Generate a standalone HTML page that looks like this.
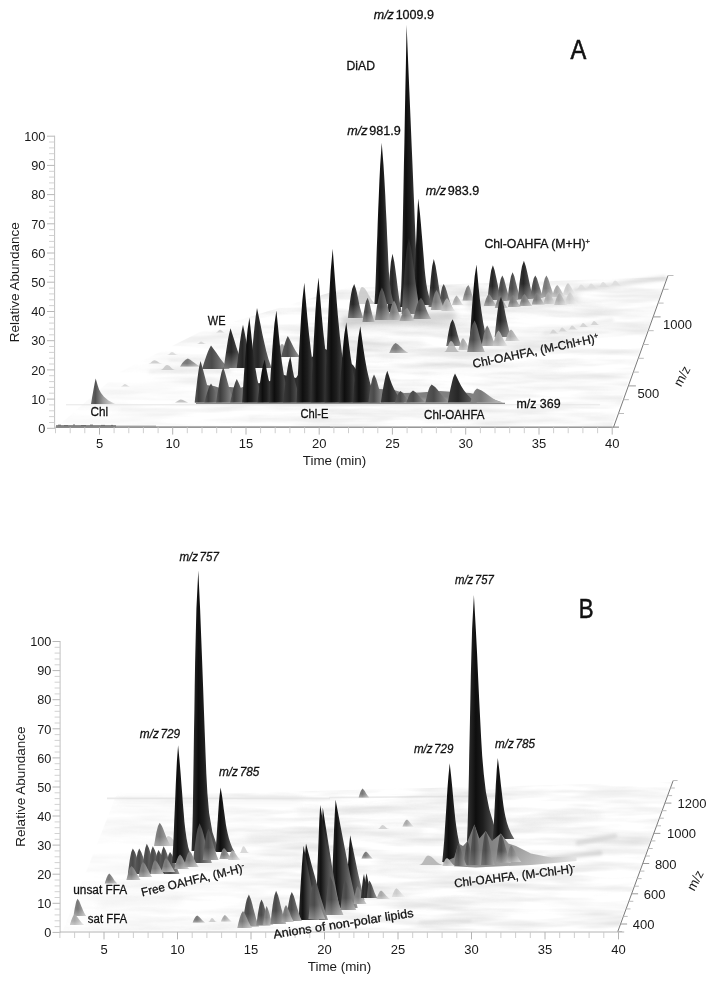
<!DOCTYPE html><html lang="en"><head><meta charset="utf-8"><title>Figure: 3D LC-MS chromatograms, panels A and B</title>
<style>html,body{margin:0;padding:0;background:#fff}svg{display:block}text{font-family:"Liberation Sans",Arial,Helvetica,sans-serif;fill:#1a1a1a}.lb text{fill:#111;stroke:#111;stroke-width:.28px}</style></head><body>
<svg width="714" height="981" viewBox="0 0 714 981">
<rect width="714" height="981" fill="#fff"/>
<defs>
<linearGradient id="k" x1="0" y1="0" x2="1" y2="0">
<stop offset="0" stop-color="#343434"/>
<stop offset="0.25" stop-color="#0e0e0e"/>
<stop offset="0.45" stop-color="#1e1e1e"/>
<stop offset="0.7" stop-color="#444444"/>
<stop offset="1" stop-color="#6c6c6c"/>
</linearGradient>
<linearGradient id="d" x1="0" y1="0" x2="1" y2="0">
<stop offset="0" stop-color="#3a3a3a"/>
<stop offset="0.35" stop-color="#262626"/>
<stop offset="1" stop-color="#747474"/>
</linearGradient>
<linearGradient id="m" x1="0" y1="0" x2="1" y2="0">
<stop offset="0" stop-color="#5a5a5a"/>
<stop offset="0.35" stop-color="#4a4a4a"/>
<stop offset="1" stop-color="#9a9a9a"/>
</linearGradient>
<linearGradient id="g" x1="0" y1="0" x2="1" y2="0">
<stop offset="0" stop-color="#858585"/>
<stop offset="0.35" stop-color="#787878"/>
<stop offset="1" stop-color="#bcbcbc"/>
</linearGradient>
<linearGradient id="l" x1="0" y1="0" x2="1" y2="0">
<stop offset="0" stop-color="#b4b4b4"/>
<stop offset="0.35" stop-color="#a8a8a8"/>
<stop offset="1" stop-color="#dedede"/>
</linearGradient>
<linearGradient id="v" x1="0" y1="0" x2="1" y2="0">
<stop offset="0" stop-color="#d4d4d4"/>
<stop offset="0.35" stop-color="#cccccc"/>
<stop offset="1" stop-color="#eeeeee"/>
</linearGradient>
<linearGradient id="r" x1="0" y1="0" x2="1" y2="0">
<stop offset="0" stop-color="#2a2a2a"/>
<stop offset="0.2" stop-color="#121212"/>
<stop offset="0.42" stop-color="#3e3e3e"/>
<stop offset="0.7" stop-color="#6a6a6a"/>
<stop offset="1" stop-color="#9a9a9a"/>
</linearGradient>
<linearGradient id="w" x1="0" y1="0" x2="1" y2="0">
<stop offset="0" stop-color="#727272"/>
<stop offset="0.3" stop-color="#7a7a7a"/>
<stop offset="0.6" stop-color="#a4a4a4"/>
<stop offset="1" stop-color="#e2e2e2"/>
</linearGradient>
<linearGradient id="f" x1="0" y1="0" x2="1" y2="0">
<stop offset="0" stop-color="#5a5a5a"/>
<stop offset="0.22" stop-color="#3c3c3c"/>
<stop offset="0.5" stop-color="#5c5c5c"/>
<stop offset="1" stop-color="#9a9a9a"/>
</linearGradient>
<linearGradient id="c" x1="0" y1="0" x2="1" y2="0">
<stop offset="0" stop-color="#6a6a6a"/>
<stop offset="0.18" stop-color="#525252"/>
<stop offset="0.5" stop-color="#9a9a9a"/>
<stop offset="1" stop-color="#e4e4e4"/>
</linearGradient>
<linearGradient id="D" x1="0" y1="0" x2="1" y2="0">
<stop offset="0" stop-color="#3a3a3a"/>
<stop offset="0.35" stop-color="#262626"/>
<stop offset="1" stop-color="#747474"/>
</linearGradient>
<linearGradient id="fade" x1="0" y1="0" x2="0" y2="1"><stop offset="0" stop-color="#fff" stop-opacity="0"/><stop offset="0.6" stop-color="#fff" stop-opacity="0"/><stop offset="1" stop-color="#fff" stop-opacity="0.32"/></linearGradient>
<filter id="b1" filterUnits="userSpaceOnUse" x="0" y="0" width="714" height="981"><feGaussianBlur stdDeviation="0.6"/></filter>
<filter id="b2" filterUnits="userSpaceOnUse" x="0" y="0" width="714" height="981"><feGaussianBlur stdDeviation="1.6"/></filter>
<filter id="b3" filterUnits="userSpaceOnUse" x="0" y="0" width="714" height="981"><feGaussianBlur stdDeviation="3"/></filter>
<filter id="tex" filterUnits="userSpaceOnUse" x="0" y="0" width="714" height="981"><feTurbulence type="fractalNoise" baseFrequency="0.012 0.11" numOctaves="3" seed="7" result="n"/><feColorMatrix in="n" type="matrix" values="0 0 0 0 0.5  0 0 0 0 0.5  0 0 0 0 0.5  0.9 0 0 0 -0.33" result="c"/><feComposite in="c" in2="SourceGraphic" operator="in"/></filter>
<linearGradient id="fmA" x1="0" y1="0" x2="1" y2="0"><stop offset="0" stop-color="#fff" stop-opacity="0.25"/><stop offset="0.45" stop-color="#fff" stop-opacity="1"/><stop offset="1" stop-color="#fff" stop-opacity="0.8"/></linearGradient>
</defs>
<path d="M58 426L612 426L667 277L345 288L200 332L120 372Z" fill="url(#fmA)" filter="url(#tex)"/>
<line x1="66" y1="404.8" x2="600" y2="404.8" stroke="#e6e6e6" stroke-width="1"/>
<line x1="56" y1="426.2" x2="116" y2="426.2" stroke="#8e8e8e" stroke-width="2.4"/>
<path d="M58 425.2h3m3 .4h4m5 -.6h2m6 .5h5m4 -.4h3m8 .3h4m6 0h2" stroke="#6e6e6e" stroke-width="1" fill="none"/>
<line x1="116" y1="426.4" x2="156" y2="426.4" stroke="#b4b4b4" stroke-width="1.8"/>
<line x1="156" y1="426.6" x2="330" y2="426.6" stroke="#d0d0d0" stroke-width="1.2"/>
<line x1="330" y1="426.8" x2="612" y2="426.8" stroke="#e0e0e0" stroke-width="1"/>
<line x1="330" y1="412" x2="470" y2="411" stroke="#c8c8c8" stroke-width="2.2" opacity="0.3" stroke-linecap="round" filter="url(#b2)"/>
<line x1="250" y1="418" x2="330" y2="418" stroke="#cccccc" stroke-width="2" opacity="0.25" stroke-linecap="round" filter="url(#b2)"/>
<line x1="120" y1="410" x2="230" y2="410" stroke="#d4d4d4" stroke-width="1.6" opacity="0.25" stroke-linecap="round" filter="url(#b2)"/>
<line x1="150" y1="372" x2="230" y2="371" stroke="#c8c8c8" stroke-width="3" opacity="0.3" stroke-linecap="round" filter="url(#b2)"/>
<line x1="170" y1="360" x2="240" y2="359" stroke="#c8c8c8" stroke-width="2.5" opacity="0.25" stroke-linecap="round" filter="url(#b2)"/>
<line x1="300" y1="345" x2="420" y2="343" stroke="#cccccc" stroke-width="5" opacity="0.25" stroke-linecap="round" filter="url(#b3)"/>
<line x1="330" y1="330" x2="470" y2="326" stroke="#cccccc" stroke-width="6" opacity="0.3" stroke-linecap="round" filter="url(#b3)"/>
<line x1="380" y1="356" x2="520" y2="352" stroke="#d0d0d0" stroke-width="4" opacity="0.3" stroke-linecap="round" filter="url(#b3)"/>
<line x1="420" y1="372" x2="560" y2="366" stroke="#d8d8d8" stroke-width="3" opacity="0.25" stroke-linecap="round" filter="url(#b3)"/>
<line x1="500" y1="312" x2="600" y2="309" stroke="#cccccc" stroke-width="3" opacity="0.3" stroke-linecap="round" filter="url(#b3)"/>
<line x1="545" y1="333" x2="612" y2="320" stroke="#d8d8d8" stroke-width="4" opacity="0.4" stroke-linecap="round" filter="url(#b2)"/>
<path d="M549 333.5C551 333.5 551.6 329.5 553 329.5C555.1 329.5 556 333.5 559 333.5Z" fill="#cfcfcf" opacity="0.8" filter="url(#b1)"/>
<path d="M558 331.5C560 331.5 560.6 327.5 562 327.5C564.1 327.5 565 331.5 568 331.5Z" fill="#cfcfcf" opacity="0.8" filter="url(#b1)"/>
<path d="M568 329.5C570 329.5 570.6 325.5 572 325.5C574.1 325.5 575 329.5 578 329.5Z" fill="#cfcfcf" opacity="0.8" filter="url(#b1)"/>
<path d="M579 327C581 327 581.6 323 583 323C585.1 323 586 327 589 327Z" fill="#cfcfcf" opacity="0.8" filter="url(#b1)"/>
<path d="M590 325C592 325 592.6 321 594 321C596.1 321 597 325 600 325Z" fill="#cfcfcf" opacity="0.8" filter="url(#b1)"/>
<line x1="575" y1="290" x2="664" y2="278" stroke="#c8c8c8" stroke-width="5" opacity="0.45" stroke-linecap="round" filter="url(#b2)"/>
<line x1="470" y1="304" x2="575" y2="298" stroke="#b4b4b4" stroke-width="7" opacity="0.5" stroke-linecap="round" filter="url(#b3)"/>
<line x1="345" y1="322" x2="452" y2="316" stroke="#a8a8a8" stroke-width="9" opacity="0.55" stroke-linecap="round" filter="url(#b3)"/>
<path d="M354 304C358 304 359.2 287 362 287C367.6 287 370 304 378 304Z" fill="#c4c4c4" opacity="0.8"/>
<path d="M347.9 318L348.5 313.1L349.1 308.3L349.7 303.4L350.4 298.5L351.2 293.6L352.2 288.8L354.2 283.9L355.9 288.8L357.1 293.6L358.1 298.5L359.1 303.4L360.2 308.3L361.5 313.1L363 318Z" fill="url(#D)"/>
<path d="M347.9 318L348.5 313.1L349.1 308.3L349.7 303.4L350.4 298.5L351.2 293.6L352.2 288.8L354.2 283.9L355.9 288.8L357.1 293.6L358.1 298.5L359.1 303.4L360.2 308.3L361.5 313.1L363 318Z" fill="url(#fade)"/>
<path d="M362.6 322L363 318.5L363.5 315.1L364 311.6L364.6 308.1L365.2 304.6L366 301.2L367.6 297.7L369 301.2L369.9 304.6L370.7 308.1L371.5 311.6L372.3 315.1L373.3 318.5L374.5 322Z" fill="url(#m)"/>
<path d="M362.6 322L363 318.5L363.5 315.1L364 311.6L364.6 308.1L365.2 304.6L366 301.2L367.6 297.7L369 301.2L369.9 304.6L370.7 308.1L371.5 311.6L372.3 315.1L373.3 318.5L374.5 322Z" fill="url(#fade)"/>
<path d="M387.3 312L387.8 303.7L388.3 295.3L388.8 287L389.4 278.7L390.1 270.4L390.9 262L392.5 253.7L394.3 262L395.5 270.4L396.6 278.7L397.6 287L398.7 295.3L400.1 303.7L401.7 312Z" fill="url(#D)"/>
<path d="M428.6 307L429.1 300.2L429.6 293.3L430.1 286.5L430.7 279.6L431.4 272.8L432.2 265.9L433.8 259.1L435.6 265.9L436.7 272.8L437.8 279.6L438.8 286.5L439.9 293.3L441.2 300.2L442.8 307Z" fill="url(#D)"/>
<path d="M428.6 307L429.1 300.2L429.6 293.3L430.1 286.5L430.7 279.6L431.4 272.8L432.2 265.9L433.8 259.1L435.6 265.9L436.7 272.8L437.8 279.6L438.8 286.5L439.9 293.3L441.2 300.2L442.8 307Z" fill="url(#fade)"/>
<path d="M438.5 308L439 304.6L439.5 301.1L440 297.7L440.6 294.2L441.3 290.8L442.1 287.3L443.7 283.9L445.4 287.3L446.6 290.8L447.6 294.2L448.6 297.7L449.7 301.1L451 304.6L452.5 308Z" fill="url(#m)"/>
<path d="M438.5 308L439 304.6L439.5 301.1L440 297.7L440.6 294.2L441.3 290.8L442.1 287.3L443.7 283.9L445.4 287.3L446.6 290.8L447.6 294.2L448.6 297.7L449.7 301.1L451 304.6L452.5 308Z" fill="url(#fade)"/>
<path d="M452.1 305L452.5 303.7L452.9 302.3L453.4 301L453.9 299.6L454.5 298.3L455.2 296.9L456.6 295.6L457.9 296.9L458.8 298.3L459.6 299.6L460.3 301L461.2 302.3L462.1 303.7L463.3 305Z" fill="url(#l)"/>
<path d="M452.1 305L452.5 303.7L452.9 302.3L453.4 301L453.9 299.6L454.5 298.3L455.2 296.9L456.6 295.6L457.9 296.9L458.8 298.3L459.6 299.6L460.3 301L461.2 302.3L462.1 303.7L463.3 305Z" fill="url(#fade)"/>
<path d="M462.6 300.5L463.1 298.3L463.6 296.1L464.2 293.9L464.9 291.7L465.7 289.5L466.6 287.3L468.4 285.1L469.6 287.3L470.4 289.5L471.1 291.7L471.8 293.9L472.5 296.1L473.4 298.3L474.4 300.5Z" fill="url(#g)"/>
<path d="M462.6 300.5L463.1 298.3L463.6 296.1L464.2 293.9L464.9 291.7L465.7 289.5L466.6 287.3L468.4 285.1L469.6 287.3L470.4 289.5L471.1 291.7L471.8 293.9L472.5 296.1L473.4 298.3L474.4 300.5Z" fill="url(#fade)"/>
<path d="M374.4 304L375.1 293.2L375.6 282.1L376 270.9L376.4 259.3L376.8 247.5L377.3 235.4L377.7 222.8L378.2 209.7L378.8 196L379.4 181.2L380.2 164.9L381.7 142.8L383.5 164.9L384.5 181.2L385.3 196L385.9 209.7L386.6 222.8L387.1 235.4L387.7 247.5L388.2 259.3L388.8 270.9L389.7 282.1L391.2 293.2L393.9 304Z" fill="url(#k)"/>
<path d="M400 307L401.2 288L401.9 268.7L402.3 249L402.7 228.8L403.1 208.2L403.5 186.9L403.9 164.9L404.4 142L404.8 117.9L405.3 92.1L405.9 63.5L406.6 24.8L408.2 63.5L409.4 92.1L410.5 117.9L411.5 142L412.5 164.9L413.4 186.9L414.3 208.2L415.1 228.8L416 249L417.1 268.7L419 288L423.4 307Z" fill="url(#k)"/>
<path d="M413 305L413.6 297.8L414.1 290.5L414.5 283.1L414.8 275.5L415.1 267.7L415.4 259.6L415.8 251.3L416.1 242.7L416.5 233.6L416.9 223.8L417.4 213L418.2 198.4L419.9 213L420.9 223.8L421.7 233.6L422.5 242.7L423.2 251.3L423.9 259.6L424.5 267.7L425.3 275.5L426.2 283.1L427.5 290.5L429.4 297.8L432.2 305Z" fill="url(#k)"/>
<path d="M401.7 314L402.4 303.2L403 292.3L403.8 281.5L404.6 270.7L405.5 259.9L406.7 249L408.9 238.2L411.2 249L412.7 259.9L414.1 270.7L415.4 281.5L416.9 292.3L418.6 303.2L420.7 314Z" fill="url(#D)"/>
<path d="M401.7 314L402.4 303.2L403 292.3L403.8 281.5L404.6 270.7L405.5 259.9L406.7 249L408.9 238.2L411.2 249L412.7 259.9L414.1 270.7L415.4 281.5L416.9 292.3L418.6 303.2L420.7 314Z" fill="url(#fade)"/>
<path d="M375.1 320L375.7 315.4L376.3 310.7L377 306.1L377.8 301.5L378.7 296.9L379.8 292.2L381.9 287.6L383.9 292.2L385.2 296.9L386.3 301.5L387.5 306.1L388.8 310.7L390.2 315.4L392 320Z" fill="url(#m)"/>
<path d="M375.1 320L375.7 315.4L376.3 310.7L377 306.1L377.8 301.5L378.7 296.9L379.8 292.2L381.9 287.6L383.9 292.2L385.2 296.9L386.3 301.5L387.5 306.1L388.8 310.7L390.2 315.4L392 320Z" fill="url(#fade)"/>
<path d="M413.4 319L414.1 316L414.8 312.9L415.6 309.9L416.4 306.8L417.4 303.8L418.6 300.7L421 297.7L423 300.7L424.3 303.8L425.4 306.8L426.6 309.9L427.9 312.9L429.3 316L431.1 319Z" fill="url(#m)"/>
<path d="M413.4 319L414.1 316L414.8 312.9L415.6 309.9L416.4 306.8L417.4 303.8L418.6 300.7L421 297.7L423 300.7L424.3 303.8L425.4 306.8L426.6 309.9L427.9 312.9L429.3 316L431.1 319Z" fill="url(#fade)"/>
<path d="M430.9 310L431.4 307.1L431.9 304.3L432.5 301.4L433.1 298.6L433.9 295.7L434.8 292.9L436.5 290L438.2 292.9L439.2 295.7L440.2 298.6L441.2 301.4L442.2 304.3L443.4 307.1L444.9 310Z" fill="url(#g)"/>
<path d="M430.9 310L431.4 307.1L431.9 304.3L432.5 301.4L433.1 298.6L433.9 295.7L434.8 292.9L436.5 290L438.2 292.9L439.2 295.7L440.2 298.6L441.2 301.4L442.2 304.3L443.4 307.1L444.9 310Z" fill="url(#fade)"/>
<path d="M388.4 320L388.9 317.2L389.4 314.4L390 311.6L390.6 308.9L391.4 306.1L392.3 303.3L394 300.5L395.5 303.3L396.6 306.1L397.5 308.9L398.4 311.6L399.3 314.4L400.5 317.2L401.8 320Z" fill="url(#g)"/>
<path d="M388.4 320L388.9 317.2L389.4 314.4L390 311.6L390.6 308.9L391.4 306.1L392.3 303.3L394 300.5L395.5 303.3L396.6 306.1L397.5 308.9L398.4 311.6L399.3 314.4L400.5 317.2L401.8 320Z" fill="url(#fade)"/>
<path d="M399.6 321L400.3 319.1L401 317.2L401.7 315.3L402.6 313.5L403.6 311.6L404.8 309.7L407.1 307.8L408.6 309.7L409.6 311.6L410.5 313.5L411.3 315.3L412.3 317.2L413.4 319.1L414.7 321Z" fill="url(#g)"/>
<path d="M399.6 321L400.3 319.1L401 317.2L401.7 315.3L402.6 313.5L403.6 311.6L404.8 309.7L407.1 307.8L408.6 309.7L409.6 311.6L410.5 313.5L411.3 315.3L412.3 317.2L413.4 319.1L414.7 321Z" fill="url(#fade)"/>
<path d="M441.4 311L441.9 309.1L442.4 307.3L443 305.4L443.6 303.6L444.4 301.7L445.3 299.9L447 298L448.5 299.9L449.6 301.7L450.5 303.6L451.4 305.4L452.3 307.3L453.5 309.1L454.8 311Z" fill="url(#l)"/>
<path d="M441.4 311L441.9 309.1L442.4 307.3L443 305.4L443.6 303.6L444.4 301.7L445.3 299.9L447 298L448.5 299.9L449.6 301.7L450.5 303.6L451.4 305.4L452.3 307.3L453.5 309.1L454.8 311Z" fill="url(#fade)"/>
<path d="M487.5 300L488 295L488.5 290.1L489.1 285.1L489.7 280.2L490.4 275.2L491.2 270.3L492.9 265.3L494.6 270.3L495.7 275.2L496.8 280.2L497.8 285.1L498.8 290.1L500.1 295L501.6 300Z" fill="url(#D)"/>
<path d="M487.5 300L488 295L488.5 290.1L489.1 285.1L489.7 280.2L490.4 275.2L491.2 270.3L492.9 265.3L494.6 270.3L495.7 275.2L496.8 280.2L497.8 285.1L498.8 290.1L500.1 295L501.6 300Z" fill="url(#fade)"/>
<path d="M497.1 301L497.6 297.3L498.1 293.7L498.6 290L499.2 286.4L499.9 282.7L500.7 279.1L502.3 275.4L504 279.1L505 282.7L506 286.4L507 290L508 293.7L509.2 297.3L510.7 301Z" fill="url(#m)"/>
<path d="M497.1 301L497.6 297.3L498.1 293.7L498.6 290L499.2 286.4L499.9 282.7L500.7 279.1L502.3 275.4L504 279.1L505 282.7L506 286.4L507 290L508 293.7L509.2 297.3L510.7 301Z" fill="url(#fade)"/>
<path d="M507.4 300L507.9 296L508.4 292.1L508.9 288.1L509.5 284.2L510.2 280.2L511 276.3L512.6 272.3L514.3 276.3L515.3 280.2L516.3 284.2L517.3 288.1L518.3 292.1L519.5 296L521 300Z" fill="url(#m)"/>
<path d="M507.4 300L507.9 296L508.4 292.1L508.9 288.1L509.5 284.2L510.2 280.2L511 276.3L512.6 272.3L514.3 276.3L515.3 280.2L516.3 284.2L517.3 288.1L518.3 292.1L519.5 296L521 300Z" fill="url(#fade)"/>
<path d="M517.9 299L518.4 293.5L519 288.1L519.6 282.6L520.3 277.2L521 271.7L522 266.3L523.9 260.8L525.8 266.3L527.1 271.7L528.3 277.2L529.4 282.6L530.6 288.1L532 293.5L533.8 299Z" fill="url(#D)"/>
<path d="M517.9 299L518.4 293.5L519 288.1L519.6 282.6L520.3 277.2L521 271.7L522 266.3L523.9 260.8L525.8 266.3L527.1 271.7L528.3 277.2L529.4 282.6L530.6 288.1L532 293.5L533.8 299Z" fill="url(#fade)"/>
<path d="M530.1 298L530.6 294.8L531.1 291.5L531.6 288.3L532.2 285.1L532.9 281.9L533.7 278.6L535.3 275.4L537 278.6L538 281.9L539 285.1L540 288.3L541 291.5L542.2 294.8L543.7 298Z" fill="url(#m)"/>
<path d="M530.1 298L530.6 294.8L531.1 291.5L531.6 288.3L532.2 285.1L532.9 281.9L533.7 278.6L535.3 275.4L537 278.6L538 281.9L539 285.1L540 288.3L541 291.5L542.2 294.8L543.7 298Z" fill="url(#fade)"/>
<path d="M541.2 297L541.7 293.9L542.2 290.8L542.7 287.7L543.3 284.7L544 281.6L544.8 278.5L546.4 275.4L548.1 278.5L549.1 281.6L550.1 284.7L551.1 287.7L552.1 290.8L553.3 293.9L554.8 297Z" fill="url(#g)"/>
<path d="M541.2 297L541.7 293.9L542.2 290.8L542.7 287.7L543.3 284.7L544 281.6L544.8 278.5L546.4 275.4L548.1 278.5L549.1 281.6L550.1 284.7L551.1 287.7L552.1 290.8L553.3 293.9L554.8 297Z" fill="url(#fade)"/>
<path d="M552 297L552.5 295.3L553 293.6L553.5 291.9L554.1 290.1L554.8 288.4L555.6 286.7L557.2 285L558.9 286.7L559.9 288.4L560.9 290.1L561.9 291.9L562.9 293.6L564.1 295.3L565.6 297Z" fill="url(#l)"/>
<path d="M552 297L552.5 295.3L553 293.6L553.5 291.9L554.1 290.1L554.8 288.4L555.6 286.7L557.2 285L558.9 286.7L559.9 288.4L560.9 290.1L561.9 291.9L562.9 293.6L564.1 295.3L565.6 297Z" fill="url(#fade)"/>
<path d="M562.8 295L563.3 293.3L563.8 291.6L564.3 289.9L564.9 288.1L565.6 286.4L566.4 284.7L568 283L569.7 284.7L570.7 286.4L571.7 288.1L572.7 289.9L573.7 291.6L574.9 293.3L576.4 295Z" fill="url(#v)"/>
<path d="M562.8 295L563.3 293.3L563.8 291.6L564.3 289.9L564.9 288.1L565.6 286.4L566.4 284.7L568 283L569.7 284.7L570.7 286.4L571.7 288.1L572.7 289.9L573.7 291.6L574.9 293.3L576.4 295Z" fill="url(#fade)"/>
<path d="M576 289.5C578.5 289.5 579.2 284.5 581 284.5C583.5 284.5 584.5 289.5 588 289.5Z" fill="#dcdcdc" opacity="0.8" filter="url(#b1)"/>
<path d="M586 288.5C588.5 288.5 589.2 283.5 591 283.5C593.5 283.5 594.5 288.5 598 288.5Z" fill="#dcdcdc" opacity="0.8" filter="url(#b1)"/>
<path d="M598 287C600.5 287 601.2 282 603 282C605.5 282 606.5 287 610 287Z" fill="#dcdcdc" opacity="0.8" filter="url(#b1)"/>
<path d="M610 285.5C612.5 285.5 613.2 280.5 615 280.5C617.5 280.5 618.5 285.5 622 285.5Z" fill="#dcdcdc" opacity="0.8" filter="url(#b1)"/>
<path d="M483.8 306L484.3 304.3L484.8 302.6L485.3 300.9L485.9 299.1L486.6 297.4L487.4 295.7L489 294L490.5 295.7L491.6 297.4L492.5 299.1L493.4 300.9L494.3 302.6L495.5 304.3L496.8 306Z" fill="url(#g)"/>
<path d="M483.8 306L484.3 304.3L484.8 302.6L485.3 300.9L485.9 299.1L486.6 297.4L487.4 295.7L489 294L490.5 295.7L491.6 297.4L492.5 299.1L493.4 300.9L494.3 302.6L495.5 304.3L496.8 306Z" fill="url(#fade)"/>
<path d="M494.8 308L495.3 306.3L495.8 304.6L496.3 302.9L496.9 301.1L497.6 299.4L498.4 297.7L500 296L501.5 297.7L502.6 299.4L503.5 301.1L504.4 302.9L505.3 304.6L506.5 306.3L507.8 308Z" fill="url(#g)"/>
<path d="M494.8 308L495.3 306.3L495.8 304.6L496.3 302.9L496.9 301.1L497.6 299.4L498.4 297.7L500 296L501.5 297.7L502.6 299.4L503.5 301.1L504.4 302.9L505.3 304.6L506.5 306.3L507.8 308Z" fill="url(#fade)"/>
<path d="M507.8 307L508.3 305.3L508.8 303.6L509.3 301.9L509.9 300.1L510.6 298.4L511.4 296.7L513 295L514.5 296.7L515.6 298.4L516.5 300.1L517.4 301.9L518.3 303.6L519.5 305.3L520.8 307Z" fill="url(#g)"/>
<path d="M507.8 307L508.3 305.3L508.8 303.6L509.3 301.9L509.9 300.1L510.6 298.4L511.4 296.7L513 295L514.5 296.7L515.6 298.4L516.5 300.1L517.4 301.9L518.3 303.6L519.5 305.3L520.8 307Z" fill="url(#fade)"/>
<path d="M519.2 306L519.7 304.3L520.2 302.6L520.7 300.9L521.3 299.1L522 297.4L522.8 295.7L524.4 294L525.9 295.7L527 297.4L527.9 299.1L528.8 300.9L529.7 302.6L530.9 304.3L532.2 306Z" fill="url(#g)"/>
<path d="M519.2 306L519.7 304.3L520.2 302.6L520.7 300.9L521.3 299.1L522 297.4L522.8 295.7L524.4 294L525.9 295.7L527 297.4L527.9 299.1L528.8 300.9L529.7 302.6L530.9 304.3L532.2 306Z" fill="url(#fade)"/>
<path d="M531.8 304.5L532.3 302.8L532.8 301.1L533.3 299.4L533.9 297.6L534.6 295.9L535.4 294.2L537 292.5L538.5 294.2L539.6 295.9L540.5 297.6L541.4 299.4L542.3 301.1L543.5 302.8L544.8 304.5Z" fill="url(#g)"/>
<path d="M531.8 304.5L532.3 302.8L532.8 301.1L533.3 299.4L533.9 297.6L534.6 295.9L535.4 294.2L537 292.5L538.5 294.2L539.6 295.9L540.5 297.6L541.4 299.4L542.3 301.1L543.5 302.8L544.8 304.5Z" fill="url(#fade)"/>
<path d="M543.3 304L543.8 302.3L544.3 300.6L544.8 298.9L545.4 297.1L546.1 295.4L546.9 293.7L548.5 292L550 293.7L551.1 295.4L552 297.1L552.9 298.9L553.8 300.6L555 302.3L556.3 304Z" fill="url(#l)"/>
<path d="M543.3 304L543.8 302.3L544.3 300.6L544.8 298.9L545.4 297.1L546.1 295.4L546.9 293.7L548.5 292L550 293.7L551.1 295.4L552 297.1L552.9 298.9L553.8 300.6L555 302.3L556.3 304Z" fill="url(#fade)"/>
<path d="M554.3 305L554.8 303.3L555.3 301.6L555.8 299.9L556.4 298.1L557.1 296.4L557.9 294.7L559.5 293L561 294.7L562.1 296.4L563 298.1L563.9 299.9L564.8 301.6L566 303.3L567.3 305Z" fill="url(#l)"/>
<path d="M554.3 305L554.8 303.3L555.3 301.6L555.8 299.9L556.4 298.1L557.1 296.4L557.9 294.7L559.5 293L561 294.7L562.1 296.4L563 298.1L563.9 299.9L564.8 301.6L566 303.3L567.3 305Z" fill="url(#fade)"/>
<path d="M564.8 304L565.3 302.3L565.8 300.6L566.3 298.9L566.9 297.1L567.6 295.4L568.4 293.7L570 292L571.5 293.7L572.6 295.4L573.5 297.1L574.4 298.9L575.3 300.6L576.5 302.3L577.8 304Z" fill="url(#v)"/>
<path d="M564.8 304L565.3 302.3L565.8 300.6L566.3 298.9L566.9 297.1L567.6 295.4L568.4 293.7L570 292L571.5 293.7L572.6 295.4L573.5 297.1L574.4 298.9L575.3 300.6L576.5 302.3L577.8 304Z" fill="url(#fade)"/>
<path d="M389.3 353L389.9 351.6L390.5 350.2L391.1 348.8L391.8 347.3L392.6 345.9L393.6 344.5L395.6 343.1L398.1 344.5L399.7 345.9L401.2 347.3L402.6 348.8L404.2 350.2L406 351.6L408.3 353Z" fill="url(#g)"/>
<path d="M389.3 353L389.9 351.6L390.5 350.2L391.1 348.8L391.8 347.3L392.6 345.9L393.6 344.5L395.6 343.1L398.1 344.5L399.7 345.9L401.2 347.3L402.6 348.8L404.2 350.2L406 351.6L408.3 353Z" fill="url(#fade)"/>
<path d="M494.7 337L495.3 331.2L495.9 325.5L496.5 319.7L497.2 313.9L498 308.1L499 302.4L501 296.6L503 302.4L504.3 308.1L505.4 313.9L506.6 319.7L507.9 325.5L509.3 331.2L511.1 337Z" fill="url(#D)"/>
<path d="M494.7 337L495.3 331.2L495.9 325.5L496.5 319.7L497.2 313.9L498 308.1L499 302.4L501 296.6L503 302.4L504.3 308.1L505.4 313.9L506.6 319.7L507.9 325.5L509.3 331.2L511.1 337Z" fill="url(#fade)"/>
<path d="M505.4 341L505.9 339.4L506.4 337.7L507 336.1L507.6 334.4L508.4 332.8L509.3 331.1L511 329.5L512.8 331.1L513.9 332.8L515 334.4L516 336.1L517.1 337.7L518.4 339.4L520 341Z" fill="url(#l)"/>
<path d="M505.4 341L505.9 339.4L506.4 337.7L507 336.1L507.6 334.4L508.4 332.8L509.3 331.1L511 329.5L512.8 331.1L513.9 332.8L515 334.4L516 336.1L517.1 337.7L518.4 339.4L520 341Z" fill="url(#fade)"/>
<path d="M446.3 346L446.9 342.2L447.5 338.3L448.1 334.5L448.8 330.7L449.6 326.9L450.6 323L452.6 319.2L454.3 323L455.5 326.9L456.5 330.7L457.5 334.5L458.6 338.3L459.9 342.2L461.4 346Z" fill="url(#D)"/>
<path d="M446.3 346L446.9 342.2L447.5 338.3L448.1 334.5L448.8 330.7L449.6 326.9L450.6 323L452.6 319.2L454.3 323L455.5 326.9L456.5 330.7L457.5 334.5L458.6 338.3L459.9 342.2L461.4 346Z" fill="url(#fade)"/>
<path d="M458.5 350L458.9 348.3L459.3 346.6L459.8 344.9L460.3 343.1L460.9 341.4L461.6 339.7L463 338L464.5 339.7L465.6 341.4L466.5 343.1L467.4 344.9L468.3 346.6L469.5 348.3L470.8 350Z" fill="url(#l)"/>
<path d="M458.5 350L458.9 348.3L459.3 346.6L459.8 344.9L460.3 343.1L460.9 341.4L461.6 339.7L463 338L464.5 339.7L465.6 341.4L466.5 343.1L467.4 344.9L468.3 346.6L469.5 348.3L470.8 350Z" fill="url(#fade)"/>
<path d="M469.4 346L470.1 334.4L470.9 322.7L471.7 311.1L472.6 299.5L473.6 287.9L474.7 276.2L476.5 264.6L477.6 276.2L478.7 287.9L479.9 299.5L481.4 311.1L483.2 322.7L485.6 334.4L488.9 346Z" fill="url(#k)"/>
<path d="M481.6 346L482.1 343.1L482.6 340.2L483.2 337.3L483.8 334.3L484.6 331.4L485.5 328.5L487.2 325.6L489 328.5L490.1 331.4L491.2 334.3L492.2 337.3L493.3 340.2L494.6 343.1L496.2 346Z" fill="url(#g)"/>
<path d="M481.6 346L482.1 343.1L482.6 340.2L483.2 337.3L483.8 334.3L484.6 331.4L485.5 328.5L487.2 325.6L489 328.5L490.1 331.4L491.2 334.3L492.2 337.3L493.3 340.2L494.6 343.1L496.2 346Z" fill="url(#fade)"/>
<path d="M492.9 346L493.4 343.8L493.9 341.6L494.5 339.4L495.1 337.2L495.9 335L496.8 332.8L498.5 330.6L500.3 332.8L501.4 335L502.5 337.2L503.5 339.4L504.6 341.6L505.9 343.8L507.5 346Z" fill="url(#l)"/>
<path d="M492.9 346L493.4 343.8L493.9 341.6L494.5 339.4L495.1 337.2L495.9 335L496.8 332.8L498.5 330.6L500.3 332.8L501.4 335L502.5 337.2L503.5 339.4L504.6 341.6L505.9 343.8L507.5 346Z" fill="url(#fade)"/>
<path d="M467.3 352L468 347.5L468.7 343L469.4 338.5L470.2 334.1L471.2 329.6L472.3 325.1L474.6 320.6L476.6 325.1L477.9 329.6L479 334.1L480.2 338.5L481.5 343L482.9 347.5L484.7 352Z" fill="url(#m)"/>
<path d="M467.3 352L468 347.5L468.7 343L469.4 338.5L470.2 334.1L471.2 329.6L472.3 325.1L474.6 320.6L476.6 325.1L477.9 329.6L479 334.1L480.2 338.5L481.5 343L482.9 347.5L484.7 352Z" fill="url(#fade)"/>
<path d="M444 352C447.5 352 448.6 341 451 341C454.1 341 455.5 352 460 352Z" fill="#b6b6b6" opacity="0.9"/>
<path d="M120.9 386.5C122.9 386.5 123.5 384 124.9 384C126.7 384 127.4 386.5 129.9 386.5Z" fill="#cfcfcf" opacity="0.8"/>
<path d="M148.4 363.5C151.4 363.5 152.3 360.3 154.4 360.3C157.2 360.3 158.4 363.5 162.4 363.5Z" fill="#c4c4c4" opacity="0.8"/>
<path d="M160 370C163.5 370 164.6 365 167 365C170.2 365 171.5 370 176 370Z" fill="#c2c2c2" opacity="0.8"/>
<path d="M197 344C199 344 199.6 341.5 201 341.5C202.8 341.5 203.5 344 206 344Z" fill="#cfcfcf" opacity="0.8"/>
<path d="M215.9 332.5C217.9 332.5 218.5 329.8 219.9 329.8C221.7 329.8 222.4 332.5 224.9 332.5Z" fill="#c9c9c9" opacity="0.8"/>
<path d="M167 355C169.5 355 170.2 352 172 352C174.1 352 175 355 178 355Z" fill="#d6d6d6" opacity="0.8"/>
<path d="M180.1 366.5L180.8 365.4L181.5 364.2L182.3 363.1L183.2 362L184.2 360.9L185.5 359.7L187.9 358.6L190.3 359.7L191.9 360.9L193.3 362L194.8 363.1L196.3 364.2L198.1 365.4L200.2 366.5Z" fill="url(#g)"/>
<path d="M180.1 366.5L180.8 365.4L181.5 364.2L182.3 363.1L183.2 362L184.2 360.9L185.5 359.7L187.9 358.6L190.3 359.7L191.9 360.9L193.3 362L194.8 363.1L196.3 364.2L198.1 365.4L200.2 366.5Z" fill="url(#fade)"/>
<path d="M202 369L203.1 365.7L204.2 362.3L205.3 359L206.5 355.6L207.7 352.3L209.1 348.9L211 345.6L213.6 348.9L216 352.3L218.2 355.6L220.6 359L223.2 362.3L226.3 365.7L230 369Z" fill="url(#m)"/>
<path d="M274 357C278 357 279.2 344 282 344C285.1 344 286.5 357 291 357Z" fill="#9e9e9e" opacity="0.9"/>
<path d="M281.1 357L281.9 354L282.7 351L283.5 348L284.4 344.9L285.3 341.9L286.4 338.9L287.8 335.9L289.5 338.9L291 341.9L292.5 344.9L294 348L295.7 351L297.7 354L300.1 357Z" fill="url(#m)"/>
<path d="M223.8 368L224.6 362.3L225.4 356.6L226.2 350.9L227.1 345.3L228 339.6L229.1 333.9L230.5 328.2L232.3 333.9L234.1 339.6L235.8 345.3L237.7 350.9L239.7 356.6L242.1 362.3L245.1 368Z" fill="url(#D)"/>
<path d="M223.8 368L224.6 362.3L225.4 356.6L226.2 350.9L227.1 345.3L228 339.6L229.1 333.9L230.5 328.2L232.3 333.9L234.1 339.6L235.8 345.3L237.7 350.9L239.7 356.6L242.1 362.3L245.1 368Z" fill="url(#fade)"/>
<path d="M236.7 368L237.5 361.8L238.2 355.7L239 349.5L239.8 343.3L240.7 337.1L241.7 331L243 324.8L244.3 331L245.5 337.1L246.7 343.3L248 349.5L249.4 355.7L251.1 361.8L253.1 368Z" fill="url(#D)"/>
<path d="M250.7 368L251.5 359.4L252.2 350.9L253 342.3L253.8 333.7L254.7 325.1L255.7 316.6L257 308L258.8 316.6L260.6 325.1L262.3 333.7L264.2 342.3L266.2 350.9L268.6 359.4L271.6 368Z" fill="url(#D)"/>
<path d="M173.8 402.6C177.3 402.6 178.4 399.5 180.8 399.5C184 399.5 185.3 402.6 189.8 402.6Z" fill="#bdbdbd" opacity="0.9"/>
<path d="M91 404L91.6 400.4L92.2 396.7L92.9 393.1L93.5 389.4L94.2 385.8L94.9 382.1L95.7 378.5L96.7 382.1L97.8 385.8L99.1 389.4L101 393.1L104 396.7L108.5 400.4L115.2 404Z" fill="url(#c)"/>
<path d="M195 402.6L197 390L206 385L214 386L220 388L230 387L240 388L246 386L248 402.6Z" fill="#707070"/>
<path d="M370 402.6L372 388L380 389L394 390L404 393L420 392.5L440 391L470 393L484 396L494 399.5L503 402.6Z" fill="#808080"/>
<path d="M370 402.6L372 388L380 389L394 390L404 393L420 392.5L440 391L470 393L484 396L494 399.5L503 402.6Z" fill="url(#fade)"/>
<path d="M244 402.6L246 384L262 383L270 381L284 375L296 378L300 372L312 357L325 349L339 355L353 365L366 384L376 390L380 402.6Z" fill="#2e2e2e"/>
<path d="M194.7 402.6L195.3 396.7L196 390.7L196.7 384.8L197.4 378.8L198.2 372.9L199.1 366.9L200.5 361L202.3 366.9L203.9 372.9L205.4 378.8L207 384.8L208.7 390.7L210.6 396.7L212.8 402.6Z" fill="url(#f)"/>
<path d="M204.3 402.6L205 399.9L205.8 397.1L206.6 394.4L207.4 391.7L208.4 389L209.4 386.2L211 383.5L212.7 386.2L214.1 389L215.5 391.7L216.9 394.4L218.5 397.1L220.2 399.9L222.2 402.6Z" fill="url(#f)"/>
<path d="M216 402.6L216.8 397.5L217.6 392.5L218.5 387.4L219.4 382.4L220.4 377.3L221.5 372.3L223.2 367.2L224.9 372.3L226.3 377.3L227.7 382.4L229.1 387.4L230.7 392.5L232.4 397.5L234.4 402.6Z" fill="url(#f)"/>
<path d="M230.1 402.6L230.8 399.2L231.6 395.9L232.4 392.5L233.2 389.1L234.2 385.7L235.2 382.4L236.8 379L238.5 382.4L239.9 385.7L241.3 389.1L242.7 392.5L244.3 395.9L246 399.2L248 402.6Z" fill="url(#f)"/>
<path d="M242.1 402.6L242.9 390.4L243.7 378.3L244.5 366.1L245.4 353.9L246.4 341.7L247.6 329.6L249.4 317.4L250.7 329.6L252 341.7L253.4 353.9L255 366.1L257.1 378.3L259.9 390.4L263.7 402.6Z" fill="url(#k)"/>
<path d="M257.4 402.6L258.2 396.4L259 390.3L259.8 384.1L260.7 377.9L261.7 371.7L262.9 365.6L264.7 359.4L265.9 365.6L267 371.7L268.3 377.9L269.8 384.1L271.7 390.3L274.3 396.4L277.7 402.6Z" fill="url(#k)"/>
<path d="M268.9 402.6L269.7 389.4L270.5 376.3L271.4 363.1L272.3 349.9L273.3 336.7L274.5 323.6L276.4 310.4L277.7 323.6L279 336.7L280.4 349.9L282 363.1L284.1 376.3L286.9 389.4L290.7 402.6Z" fill="url(#k)"/>
<path d="M283 402.6L283.8 396L284.6 389.3L285.4 382.7L286.3 376.1L287.3 369.5L288.5 362.8L290.3 356.2L291.5 362.8L292.6 369.5L293.9 376.1L295.4 382.7L297.3 389.3L299.9 396L303.3 402.6Z" fill="url(#d)"/>
<path d="M296.5 402.6L297.3 385.5L298.2 368.4L299.1 351.3L300.1 334.1L301.1 317L302.4 299.9L304.3 282.8L305.8 299.9L307.3 317L309 334.1L311 351.3L313.5 368.4L316.7 385.5L321.2 402.6Z" fill="url(#k)"/>
<path d="M310.7 402.6L311.5 384.7L312.4 366.9L313.3 349L314.3 331.2L315.3 313.3L316.6 295.5L318.5 277.6L320 295.5L321.5 313.3L323.2 331.2L325.2 349L327.7 366.9L330.9 384.7L335.4 402.6Z" fill="url(#k)"/>
<path d="M324.6 402.6L325.5 380.6L326.4 358.7L327.3 336.7L328.3 314.7L329.4 292.7L330.7 270.8L332.7 248.8L334.3 270.8L336 292.7L337.8 314.7L339.9 336.7L342.6 358.7L346.1 380.6L350.9 402.6Z" fill="url(#k)"/>
<path d="M338.8 402.6L339.6 391.1L340.4 379.7L341.3 368.2L342.2 356.7L343.2 345.2L344.4 333.8L346.3 322.3L347.7 333.8L349.1 345.2L350.6 356.7L352.5 368.2L354.8 379.7L357.8 391.1L361.9 402.6Z" fill="url(#k)"/>
<path d="M352.8 402.6L353.6 391.7L354.4 380.8L355.3 369.9L356.2 359L357.2 348.1L358.4 337.2L360.3 326.3L361.8 337.2L363.3 348.1L365 359L367 369.9L369.5 380.8L372.7 391.7L377.2 402.6Z" fill="url(#k)"/>
<path d="M368.4 402.6L368.9 398.6L369.4 394.6L370 390.6L370.6 386.6L371.4 382.6L372.3 378.6L374 374.6L376 378.6L377.3 382.6L378.4 386.6L379.6 390.6L380.9 394.6L382.3 398.6L384.1 402.6Z" fill="url(#m)"/>
<path d="M380.8 402.6L381.5 398.1L382.2 393.5L383 389L383.8 384.4L384.7 379.9L385.7 375.3L387.3 370.8L388.8 375.3L390.3 379.9L392 384.4L394 389L396.5 393.5L399.7 398.1L404.2 402.6Z" fill="url(#d)"/>
<path d="M394.9 402.6L395.4 400.9L395.9 399.3L396.5 397.6L397.1 396L397.9 394.3L398.8 392.7L400.5 391L402.5 392.7L403.8 394.3L404.9 396L406.1 397.6L407.4 399.3L408.8 400.9L410.6 402.6Z" fill="url(#m)"/>
<path d="M406.3 402.6L406.9 400.9L407.5 399.2L408.2 397.5L409 395.7L409.8 394L410.9 392.3L413 390.6L415.6 392.3L417.4 394L418.9 395.7L420.5 397.5L422.1 399.2L424.1 400.9L426.4 402.6Z" fill="url(#m)"/>
<path d="M425.4 402.6L426 400L426.6 397.4L427.2 394.8L427.9 392.2L428.7 389.6L429.7 387L431.6 384.4L435.1 387L437.4 389.6L439.5 392.2L441.6 394.8L443.8 397.4L446.4 400L449.5 402.6Z" fill="url(#m)"/>
<path d="M447.9 402.6L448.6 398.4L449.4 394.3L450.2 390.1L451.1 385.9L452.1 381.7L453.2 377.6L455 373.4L457 377.6L459 381.7L461.2 385.9L463.7 390.1L467 394.3L471.3 398.4L477.1 402.6Z" fill="url(#d)"/>
<path d="M470.3 402.6L470.9 400.6L471.5 398.6L472.2 396.6L473 394.6L473.8 392.6L474.9 390.6L477 388.6L481.6 390.6L484.7 392.6L487.4 394.6L490.1 396.6L493 398.6L496.4 400.6L500.5 402.6Z" fill="url(#g)"/>
<line x1="196" y1="403.4" x2="505" y2="403.4" stroke="#8a8a8a" stroke-width="1.2"/>
<line x1="54.6" y1="135.7" x2="54.6" y2="428.8" stroke="#c2c2c2" stroke-width="1"/>
<line x1="47" y1="428.3" x2="54.6" y2="428.3" stroke="#b8b8b8" stroke-width="1"/>
<text x="45.4" y="433" font-size="12.7" text-anchor="end" fill="#2a2a2a">0</text>
<line x1="49.1" y1="422.5" x2="54.6" y2="422.5" stroke="#cdcdcd" stroke-width="0.9"/>
<line x1="49.1" y1="416.6" x2="54.6" y2="416.6" stroke="#cdcdcd" stroke-width="0.9"/>
<line x1="49.1" y1="410.8" x2="54.6" y2="410.8" stroke="#cdcdcd" stroke-width="0.9"/>
<line x1="49.1" y1="404.9" x2="54.6" y2="404.9" stroke="#cdcdcd" stroke-width="0.9"/>
<line x1="47" y1="399.1" x2="54.6" y2="399.1" stroke="#b8b8b8" stroke-width="1"/>
<text x="45.4" y="403.8" font-size="12.7" text-anchor="end" fill="#2a2a2a">10</text>
<line x1="49.1" y1="393.2" x2="54.6" y2="393.2" stroke="#cdcdcd" stroke-width="0.9"/>
<line x1="49.1" y1="387.4" x2="54.6" y2="387.4" stroke="#cdcdcd" stroke-width="0.9"/>
<line x1="49.1" y1="381.6" x2="54.6" y2="381.6" stroke="#cdcdcd" stroke-width="0.9"/>
<line x1="49.1" y1="375.7" x2="54.6" y2="375.7" stroke="#cdcdcd" stroke-width="0.9"/>
<line x1="47" y1="369.9" x2="54.6" y2="369.9" stroke="#b8b8b8" stroke-width="1"/>
<text x="45.4" y="374.6" font-size="12.7" text-anchor="end" fill="#2a2a2a">20</text>
<line x1="49.1" y1="364" x2="54.6" y2="364" stroke="#cdcdcd" stroke-width="0.9"/>
<line x1="49.1" y1="358.2" x2="54.6" y2="358.2" stroke="#cdcdcd" stroke-width="0.9"/>
<line x1="49.1" y1="352.4" x2="54.6" y2="352.4" stroke="#cdcdcd" stroke-width="0.9"/>
<line x1="49.1" y1="346.5" x2="54.6" y2="346.5" stroke="#cdcdcd" stroke-width="0.9"/>
<line x1="47" y1="340.7" x2="54.6" y2="340.7" stroke="#b8b8b8" stroke-width="1"/>
<text x="45.4" y="345.4" font-size="12.7" text-anchor="end" fill="#2a2a2a">30</text>
<line x1="49.1" y1="334.8" x2="54.6" y2="334.8" stroke="#cdcdcd" stroke-width="0.9"/>
<line x1="49.1" y1="329" x2="54.6" y2="329" stroke="#cdcdcd" stroke-width="0.9"/>
<line x1="49.1" y1="323.1" x2="54.6" y2="323.1" stroke="#cdcdcd" stroke-width="0.9"/>
<line x1="49.1" y1="317.3" x2="54.6" y2="317.3" stroke="#cdcdcd" stroke-width="0.9"/>
<line x1="47" y1="311.5" x2="54.6" y2="311.5" stroke="#b8b8b8" stroke-width="1"/>
<text x="45.4" y="316.2" font-size="12.7" text-anchor="end" fill="#2a2a2a">40</text>
<line x1="49.1" y1="305.6" x2="54.6" y2="305.6" stroke="#cdcdcd" stroke-width="0.9"/>
<line x1="49.1" y1="299.8" x2="54.6" y2="299.8" stroke="#cdcdcd" stroke-width="0.9"/>
<line x1="49.1" y1="293.9" x2="54.6" y2="293.9" stroke="#cdcdcd" stroke-width="0.9"/>
<line x1="49.1" y1="288.1" x2="54.6" y2="288.1" stroke="#cdcdcd" stroke-width="0.9"/>
<line x1="47" y1="282.2" x2="54.6" y2="282.2" stroke="#b8b8b8" stroke-width="1"/>
<text x="45.4" y="286.9" font-size="12.7" text-anchor="end" fill="#2a2a2a">50</text>
<line x1="49.1" y1="276.4" x2="54.6" y2="276.4" stroke="#cdcdcd" stroke-width="0.9"/>
<line x1="49.1" y1="270.6" x2="54.6" y2="270.6" stroke="#cdcdcd" stroke-width="0.9"/>
<line x1="49.1" y1="264.7" x2="54.6" y2="264.7" stroke="#cdcdcd" stroke-width="0.9"/>
<line x1="49.1" y1="258.9" x2="54.6" y2="258.9" stroke="#cdcdcd" stroke-width="0.9"/>
<line x1="47" y1="253" x2="54.6" y2="253" stroke="#b8b8b8" stroke-width="1"/>
<text x="45.4" y="257.7" font-size="12.7" text-anchor="end" fill="#2a2a2a">60</text>
<line x1="49.1" y1="247.2" x2="54.6" y2="247.2" stroke="#cdcdcd" stroke-width="0.9"/>
<line x1="49.1" y1="241.4" x2="54.6" y2="241.4" stroke="#cdcdcd" stroke-width="0.9"/>
<line x1="49.1" y1="235.5" x2="54.6" y2="235.5" stroke="#cdcdcd" stroke-width="0.9"/>
<line x1="49.1" y1="229.7" x2="54.6" y2="229.7" stroke="#cdcdcd" stroke-width="0.9"/>
<line x1="47" y1="223.8" x2="54.6" y2="223.8" stroke="#b8b8b8" stroke-width="1"/>
<text x="45.4" y="228.5" font-size="12.7" text-anchor="end" fill="#2a2a2a">70</text>
<line x1="49.1" y1="218" x2="54.6" y2="218" stroke="#cdcdcd" stroke-width="0.9"/>
<line x1="49.1" y1="212.1" x2="54.6" y2="212.1" stroke="#cdcdcd" stroke-width="0.9"/>
<line x1="49.1" y1="206.3" x2="54.6" y2="206.3" stroke="#cdcdcd" stroke-width="0.9"/>
<line x1="49.1" y1="200.5" x2="54.6" y2="200.5" stroke="#cdcdcd" stroke-width="0.9"/>
<line x1="47" y1="194.6" x2="54.6" y2="194.6" stroke="#b8b8b8" stroke-width="1"/>
<text x="45.4" y="199.3" font-size="12.7" text-anchor="end" fill="#2a2a2a">80</text>
<line x1="49.1" y1="188.8" x2="54.6" y2="188.8" stroke="#cdcdcd" stroke-width="0.9"/>
<line x1="49.1" y1="182.9" x2="54.6" y2="182.9" stroke="#cdcdcd" stroke-width="0.9"/>
<line x1="49.1" y1="177.1" x2="54.6" y2="177.1" stroke="#cdcdcd" stroke-width="0.9"/>
<line x1="49.1" y1="171.3" x2="54.6" y2="171.3" stroke="#cdcdcd" stroke-width="0.9"/>
<line x1="47" y1="165.4" x2="54.6" y2="165.4" stroke="#b8b8b8" stroke-width="1"/>
<text x="45.4" y="170.1" font-size="12.7" text-anchor="end" fill="#2a2a2a">90</text>
<line x1="49.1" y1="159.6" x2="54.6" y2="159.6" stroke="#cdcdcd" stroke-width="0.9"/>
<line x1="49.1" y1="153.7" x2="54.6" y2="153.7" stroke="#cdcdcd" stroke-width="0.9"/>
<line x1="49.1" y1="147.9" x2="54.6" y2="147.9" stroke="#cdcdcd" stroke-width="0.9"/>
<line x1="49.1" y1="142" x2="54.6" y2="142" stroke="#cdcdcd" stroke-width="0.9"/>
<line x1="47" y1="136.2" x2="54.6" y2="136.2" stroke="#b8b8b8" stroke-width="1"/>
<text x="45.4" y="140.9" font-size="12.7" text-anchor="end" fill="#2a2a2a">100</text>
<text x="19.4" y="282.2" font-size="13.5" text-anchor="middle" transform="rotate(-90 19.4 282.2)" fill="#2a2a2a">Relative Abundance</text>
<line x1="55.5" y1="427.2" x2="619" y2="427.2" stroke="#6e6e6e" stroke-width="1"/>
<line x1="55.5" y1="427.2" x2="55.5" y2="433.2" stroke="#c8c8c8" stroke-width="0.9"/>
<line x1="70.2" y1="427.2" x2="70.2" y2="433.2" stroke="#c8c8c8" stroke-width="0.9"/>
<line x1="84.8" y1="427.2" x2="84.8" y2="433.2" stroke="#c8c8c8" stroke-width="0.9"/>
<line x1="99.5" y1="427.2" x2="99.5" y2="434.6" stroke="#b4b4b4" stroke-width="1"/>
<text x="99.5" y="448.4" font-size="13" text-anchor="middle" fill="#2a2a2a">5</text>
<line x1="114.1" y1="427.2" x2="114.1" y2="433.2" stroke="#c8c8c8" stroke-width="0.9"/>
<line x1="128.8" y1="427.2" x2="128.8" y2="433.2" stroke="#c8c8c8" stroke-width="0.9"/>
<line x1="143.4" y1="427.2" x2="143.4" y2="433.2" stroke="#c8c8c8" stroke-width="0.9"/>
<line x1="158.1" y1="427.2" x2="158.1" y2="433.2" stroke="#c8c8c8" stroke-width="0.9"/>
<line x1="172.7" y1="427.2" x2="172.7" y2="434.6" stroke="#b4b4b4" stroke-width="1"/>
<text x="172.7" y="448.4" font-size="13" text-anchor="middle" fill="#2a2a2a">10</text>
<line x1="187.3" y1="427.2" x2="187.3" y2="433.2" stroke="#c8c8c8" stroke-width="0.9"/>
<line x1="202" y1="427.2" x2="202" y2="433.2" stroke="#c8c8c8" stroke-width="0.9"/>
<line x1="216.7" y1="427.2" x2="216.7" y2="433.2" stroke="#c8c8c8" stroke-width="0.9"/>
<line x1="231.3" y1="427.2" x2="231.3" y2="433.2" stroke="#c8c8c8" stroke-width="0.9"/>
<line x1="246" y1="427.2" x2="246" y2="434.6" stroke="#b4b4b4" stroke-width="1"/>
<text x="246" y="448.4" font-size="13" text-anchor="middle" fill="#2a2a2a">15</text>
<line x1="260.6" y1="427.2" x2="260.6" y2="433.2" stroke="#c8c8c8" stroke-width="0.9"/>
<line x1="275.2" y1="427.2" x2="275.2" y2="433.2" stroke="#c8c8c8" stroke-width="0.9"/>
<line x1="289.9" y1="427.2" x2="289.9" y2="433.2" stroke="#c8c8c8" stroke-width="0.9"/>
<line x1="304.6" y1="427.2" x2="304.6" y2="433.2" stroke="#c8c8c8" stroke-width="0.9"/>
<line x1="319.2" y1="427.2" x2="319.2" y2="434.6" stroke="#b4b4b4" stroke-width="1"/>
<text x="319.2" y="448.4" font-size="13" text-anchor="middle" fill="#2a2a2a">20</text>
<line x1="333.9" y1="427.2" x2="333.9" y2="433.2" stroke="#c8c8c8" stroke-width="0.9"/>
<line x1="348.5" y1="427.2" x2="348.5" y2="433.2" stroke="#c8c8c8" stroke-width="0.9"/>
<line x1="363.2" y1="427.2" x2="363.2" y2="433.2" stroke="#c8c8c8" stroke-width="0.9"/>
<line x1="377.8" y1="427.2" x2="377.8" y2="433.2" stroke="#c8c8c8" stroke-width="0.9"/>
<line x1="392.4" y1="427.2" x2="392.4" y2="434.6" stroke="#b4b4b4" stroke-width="1"/>
<text x="392.4" y="448.4" font-size="13" text-anchor="middle" fill="#2a2a2a">25</text>
<line x1="407.1" y1="427.2" x2="407.1" y2="433.2" stroke="#c8c8c8" stroke-width="0.9"/>
<line x1="421.8" y1="427.2" x2="421.8" y2="433.2" stroke="#c8c8c8" stroke-width="0.9"/>
<line x1="436.4" y1="427.2" x2="436.4" y2="433.2" stroke="#c8c8c8" stroke-width="0.9"/>
<line x1="451.1" y1="427.2" x2="451.1" y2="433.2" stroke="#c8c8c8" stroke-width="0.9"/>
<line x1="465.7" y1="427.2" x2="465.7" y2="434.6" stroke="#b4b4b4" stroke-width="1"/>
<text x="465.7" y="448.4" font-size="13" text-anchor="middle" fill="#2a2a2a">30</text>
<line x1="480.4" y1="427.2" x2="480.4" y2="433.2" stroke="#c8c8c8" stroke-width="0.9"/>
<line x1="495" y1="427.2" x2="495" y2="433.2" stroke="#c8c8c8" stroke-width="0.9"/>
<line x1="509.7" y1="427.2" x2="509.7" y2="433.2" stroke="#c8c8c8" stroke-width="0.9"/>
<line x1="524.3" y1="427.2" x2="524.3" y2="433.2" stroke="#c8c8c8" stroke-width="0.9"/>
<line x1="539" y1="427.2" x2="539" y2="434.6" stroke="#b4b4b4" stroke-width="1"/>
<text x="539" y="448.4" font-size="13" text-anchor="middle" fill="#2a2a2a">35</text>
<line x1="553.6" y1="427.2" x2="553.6" y2="433.2" stroke="#c8c8c8" stroke-width="0.9"/>
<line x1="568.2" y1="427.2" x2="568.2" y2="433.2" stroke="#c8c8c8" stroke-width="0.9"/>
<line x1="582.9" y1="427.2" x2="582.9" y2="433.2" stroke="#c8c8c8" stroke-width="0.9"/>
<line x1="597.6" y1="427.2" x2="597.6" y2="433.2" stroke="#c8c8c8" stroke-width="0.9"/>
<line x1="612.2" y1="427.2" x2="612.2" y2="434.6" stroke="#b4b4b4" stroke-width="1"/>
<text x="612.2" y="448.4" font-size="13" text-anchor="middle" fill="#2a2a2a">40</text>
<text x="334.5" y="465.2" font-size="13.4" text-anchor="middle" fill="#2a2a2a">Time (min)</text>
<line x1="613.5" y1="427.3" x2="668" y2="275.5" stroke="#7a7a7a" stroke-width="1"/>
<line x1="613.5" y1="427.3" x2="619" y2="427.3" stroke="#b4b4b4" stroke-width="0.9"/>
<line x1="618.5" y1="413.5" x2="624" y2="413.5" stroke="#b4b4b4" stroke-width="0.9"/>
<line x1="623.4" y1="399.7" x2="628.9" y2="399.7" stroke="#b4b4b4" stroke-width="0.9"/>
<line x1="628.4" y1="385.9" x2="635.9" y2="385.9" stroke="#9a9a9a" stroke-width="1"/>
<line x1="633.3" y1="372.1" x2="638.8" y2="372.1" stroke="#b4b4b4" stroke-width="0.9"/>
<line x1="638.3" y1="358.3" x2="643.8" y2="358.3" stroke="#b4b4b4" stroke-width="0.9"/>
<line x1="643.2" y1="344.5" x2="648.7" y2="344.5" stroke="#b4b4b4" stroke-width="0.9"/>
<line x1="648.2" y1="330.7" x2="653.7" y2="330.7" stroke="#b4b4b4" stroke-width="0.9"/>
<line x1="653.1" y1="316.9" x2="660.6" y2="316.9" stroke="#9a9a9a" stroke-width="1"/>
<line x1="658.1" y1="303.1" x2="663.6" y2="303.1" stroke="#b4b4b4" stroke-width="0.9"/>
<line x1="663" y1="289.3" x2="668.5" y2="289.3" stroke="#b4b4b4" stroke-width="0.9"/>
<line x1="668" y1="275.5" x2="673.5" y2="275.5" stroke="#b4b4b4" stroke-width="0.9"/>
<text x="637.6" y="398.1" font-size="13" fill="#2a2a2a">500</text>
<text x="663" y="329.1" font-size="13" fill="#2a2a2a">1000</text>
<text x="681.9" y="376.2" font-size="13" text-anchor="middle" transform="rotate(-62 681.9 376.2)" fill="#2a2a2a" dy="4.5">m/z</text>
<g class="lb">
<text x="373.7" y="18.9" font-size="12.0" textLength="60.3" lengthAdjust="spacingAndGlyphs"><tspan font-style="italic">m/z</tspan><tspan font-size="6"> </tspan>1009.9</text>
<text x="346.5" y="70" font-size="12.0" textLength="28.5" lengthAdjust="spacingAndGlyphs">DiAD</text>
<text x="347.2" y="134.9" font-size="12.0" textLength="53.5" lengthAdjust="spacingAndGlyphs"><tspan font-style="italic">m/z</tspan><tspan font-size="6"> </tspan>981.9</text>
<text x="425.8" y="195" font-size="12.0" textLength="53.4" lengthAdjust="spacingAndGlyphs"><tspan font-style="italic">m/z</tspan><tspan font-size="6"> </tspan>983.9</text>
<text x="484.4" y="248" font-size="12.2" textLength="105.6" lengthAdjust="spacingAndGlyphs">Chl-OAHFA (M+H)<tspan font-size="7.5" dy="-4.2">+</tspan></text>
<text x="207.8" y="324.7" font-size="12.0" textLength="17.7" lengthAdjust="spacingAndGlyphs">WE</text>
<text x="473.6" y="368" font-size="12.0" textLength="128.6" lengthAdjust="spacingAndGlyphs" transform="rotate(-11.8 473.6 368)">Chl-OAHFA, (M-Chl+H)<tspan font-size="7.5" dy="-4.2">+</tspan></text>
<text x="90.6" y="416.3" font-size="12.0" textLength="17.6" lengthAdjust="spacingAndGlyphs">Chl</text>
<text x="300.4" y="418.1" font-size="12.0" textLength="28" lengthAdjust="spacingAndGlyphs">Chl-E</text>
<text x="424.1" y="418.6" font-size="12.0" textLength="60.5" lengthAdjust="spacingAndGlyphs">Chl-OAHFA</text>
<text x="516.4" y="408" font-size="12.0" textLength="44.2" lengthAdjust="spacingAndGlyphs">m/z 369</text>
<text x="570.5" y="58.8" font-size="27.4" textLength="15.8" lengthAdjust="spacingAndGlyphs" style="stroke-width:.6px">A</text>
</g>
<path d="M63 930.5L617 930.5L672 782L116 796Z" fill="url(#fmA)" filter="url(#tex)"/>
<line x1="107" y1="798.4" x2="330" y2="798.4" stroke="#e9e9e9" stroke-width="1.8"/>
<line x1="330" y1="797.6" x2="500" y2="796" stroke="#d8d8d8" stroke-width="1.6" opacity="0.5" stroke-linecap="round" filter="url(#b1)"/>
<line x1="120" y1="800" x2="300" y2="800" stroke="#d0d0d0" stroke-width="3" opacity="0.4" stroke-linecap="round" filter="url(#b3)"/>
<line x1="300" y1="812" x2="460" y2="808" stroke="#d0d0d0" stroke-width="5" opacity="0.35" stroke-linecap="round" filter="url(#b3)"/>
<line x1="250" y1="838" x2="420" y2="832" stroke="#d0d0d0" stroke-width="6" opacity="0.35" stroke-linecap="round" filter="url(#b3)"/>
<line x1="240" y1="866" x2="300" y2="862" stroke="#cccccc" stroke-width="4" opacity="0.4" stroke-linecap="round" filter="url(#b3)"/>
<line x1="380" y1="870" x2="440" y2="866" stroke="#cccccc" stroke-width="5" opacity="0.35" stroke-linecap="round" filter="url(#b3)"/>
<line x1="400" y1="905" x2="520" y2="900" stroke="#d8d8d8" stroke-width="5" opacity="0.35" stroke-linecap="round" filter="url(#b3)"/>
<line x1="420" y1="922" x2="470" y2="921" stroke="#c8c8c8" stroke-width="2.5" opacity="0.4" stroke-linecap="round" filter="url(#b2)"/>
<line x1="548" y1="858" x2="600" y2="853" stroke="#bbbbbb" stroke-width="5" opacity="0.5" stroke-linecap="round" filter="url(#b2)"/>
<line x1="578" y1="843" x2="615" y2="836" stroke="#c4c4c4" stroke-width="5" opacity="0.5" stroke-linecap="round" filter="url(#b2)"/>
<line x1="520" y1="822" x2="600" y2="815" stroke="#d0d0d0" stroke-width="4" opacity="0.4" stroke-linecap="round" filter="url(#b3)"/>
<line x1="100" y1="905" x2="180" y2="900" stroke="#d4d4d4" stroke-width="4" opacity="0.4" stroke-linecap="round" filter="url(#b3)"/>
<line x1="90" y1="925" x2="240" y2="922" stroke="#d8d8d8" stroke-width="3" opacity="0.4" stroke-linecap="round" filter="url(#b3)"/>
<path d="M358.7 797.5L359 796.2L359.4 795L359.8 793.7L360.2 792.4L360.8 791.1L361.4 789.9L362.6 788.6L363.9 789.9L364.8 791.1L365.6 792.4L366.3 793.7L367.2 795L368.1 796.2L369.3 797.5Z" fill="url(#g)"/>
<path d="M358.7 797.5L359 796.2L359.4 795L359.8 793.7L360.2 792.4L360.8 791.1L361.4 789.9L362.6 788.6L363.9 789.9L364.8 791.1L365.6 792.4L366.3 793.7L367.2 795L368.1 796.2L369.3 797.5Z" fill="url(#fade)"/>
<path d="M377.5 829C380 829 380.8 825 382.5 825C384.9 825 386 829 389.5 829Z" fill="#c8c8c8" opacity="0.8"/>
<path d="M402.5 826.5L402.9 825.5L403.3 824.5L403.8 823.5L404.3 822.6L404.9 821.6L405.6 820.6L407 819.6L408.3 820.6L409.2 821.6L410 822.6L410.7 823.5L411.6 824.5L412.5 825.5L413.7 826.5Z" fill="url(#l)"/>
<path d="M402.5 826.5L402.9 825.5L403.3 824.5L403.8 823.5L404.3 822.6L404.9 821.6L405.6 820.6L407 819.6L408.3 820.6L409.2 821.6L410 822.6L410.7 823.5L411.6 824.5L412.5 825.5L413.7 826.5Z" fill="url(#fade)"/>
<path d="M361.5 858.5L361.9 857.5L362.3 856.5L362.8 855.5L363.3 854.6L363.9 853.6L364.6 852.6L366 851.6L367.3 852.6L368.2 853.6L369 854.6L369.7 855.5L370.6 856.5L371.5 857.5L372.7 858.5Z" fill="url(#g)"/>
<path d="M361.5 858.5L361.9 857.5L362.3 856.5L362.8 855.5L363.3 854.6L363.9 853.6L364.6 852.6L366 851.6L367.3 852.6L368.2 853.6L369 854.6L369.7 855.5L370.6 856.5L371.5 857.5L372.7 858.5Z" fill="url(#fade)"/>
<path d="M345 850C347.5 850 348.2 846 350 846C352.1 846 353 850 356 850Z" fill="#d0d0d0" opacity="0.8"/>
<path d="M239.4 853C241.4 853 242 846.3 243.4 846.3C245.5 846.3 246.4 853 249.4 853Z" fill="#cfcfcf" opacity="0.8"/>
<path d="M162 846C165 846 165.9 836 168 836C172.9 836 175 846 182 846Z" fill="#cdcdcd" opacity="0.9"/>
<path d="M154.1 846L154.6 842.7L155.1 839.4L155.7 836.1L156.3 832.7L157.1 829.4L158 826.1L159.7 822.8L161.9 826.1L163.4 829.4L164.6 832.7L165.9 836.1L167.3 839.4L168.9 842.7L170.9 846Z" fill="url(#g)"/>
<path d="M154.1 846L154.6 842.7L155.1 839.4L155.7 836.1L156.3 832.7L157.1 829.4L158 826.1L159.7 822.8L161.9 826.1L163.4 829.4L164.6 832.7L165.9 836.1L167.3 839.4L168.9 842.7L170.9 846Z" fill="url(#fade)"/>
<path d="M104.8 883.5L105.2 882.1L105.6 880.7L106.1 879.3L106.6 877.8L107.2 876.4L107.9 875L109.3 873.6L110.8 875L111.9 876.4L112.8 877.8L113.7 879.3L114.6 880.7L115.8 882.1L117.1 883.5Z" fill="url(#g)"/>
<path d="M104.8 883.5L105.2 882.1L105.6 880.7L106.1 879.3L106.6 877.8L107.2 876.4L107.9 875L109.3 873.6L110.8 875L111.9 876.4L112.8 877.8L113.7 879.3L114.6 880.7L115.8 882.1L117.1 883.5Z" fill="url(#fade)"/>
<path d="M127.9 874L128.3 870.3L128.8 866.7L129.3 863L129.8 859.4L130.5 855.7L131.3 852.1L132.8 848.4L134.9 852.1L136.3 855.7L137.5 859.4L138.6 863L139.8 866.7L141 870.3L142.3 874Z" fill="url(#m)"/>
<path d="M134.3 874L134.7 870.4L135.2 866.7L135.7 863.1L136.2 859.5L136.9 855.9L137.7 852.2L139.2 848.6L141.3 852.2L142.7 855.9L143.9 859.5L145 863.1L146.2 866.7L147.4 870.4L148.7 874Z" fill="url(#m)"/>
<path d="M141.9 874L142.3 869.7L142.8 865.4L143.3 861.1L143.8 856.7L144.5 852.4L145.3 848.1L146.8 843.8L148.9 848.1L150.3 852.4L151.5 856.7L152.6 861.1L153.8 865.4L155 869.7L156.3 874Z" fill="url(#m)"/>
<path d="M147.9 874L148.3 870L148.8 866.1L149.3 862.1L149.8 858.1L150.5 854.1L151.3 850.2L152.8 846.2L154.9 850.2L156.3 854.1L157.5 858.1L158.6 862.1L159.8 866.1L161 870L162.3 874Z" fill="url(#m)"/>
<path d="M153.6 874L154 870.6L154.5 867.1L155 863.7L155.5 860.3L156.2 856.9L157 853.4L158.5 850L160.6 853.4L162 856.9L163.2 860.3L164.3 863.7L165.5 867.1L166.7 870.6L168 874Z" fill="url(#m)"/>
<path d="M158.7 874L159.1 870L159.6 866.1L160.1 862.1L160.6 858.1L161.3 854.1L162.1 850.2L163.6 846.2L165.7 850.2L167.1 854.1L168.3 858.1L169.4 862.1L170.6 866.1L171.8 870L173.1 874Z" fill="url(#m)"/>
<path d="M165.1 874L165.5 870.9L166 867.7L166.5 864.6L167 861.4L167.7 858.3L168.5 855.1L170 852L172.1 855.1L173.5 858.3L174.7 861.4L175.8 864.6L177 867.7L178.2 870.9L179.5 874Z" fill="url(#m)"/>
<path d="M126.5 880L126.9 878L127.4 876L127.9 874L128.5 872L129.1 870L129.9 868L131.5 866L133.5 868L134.8 870L135.9 872L137 874L138.1 876L139.2 878L140.5 880Z" fill="url(#g)"/>
<path d="M126.5 880L126.9 878L127.4 876L127.9 874L128.5 872L129.1 870L129.9 868L131.5 866L133.5 868L134.8 870L135.9 872L137 874L138.1 876L139.2 878L140.5 880Z" fill="url(#fade)"/>
<path d="M138.5 877L138.9 874.9L139.3 872.7L139.8 870.6L140.3 868.4L140.9 866.3L141.6 864.1L143 862L145 864.1L146.3 866.3L147.4 868.4L148.5 870.6L149.6 872.7L150.7 874.9L152 877Z" fill="url(#g)"/>
<path d="M138.5 877L138.9 874.9L139.3 872.7L139.8 870.6L140.3 868.4L140.9 866.3L141.6 864.1L143 862L145 864.1L146.3 866.3L147.4 868.4L148.5 870.6L149.6 872.7L150.7 874.9L152 877Z" fill="url(#fade)"/>
<path d="M150.5 874L150.9 872L151.3 870L151.8 868L152.3 866L152.9 864L153.6 862L155 860L157 862L158.3 864L159.4 866L160.5 868L161.6 870L162.7 872L164 874Z" fill="url(#g)"/>
<path d="M150.5 874L150.9 872L151.3 870L151.8 868L152.3 866L152.9 864L153.6 862L155 860L157 862L158.3 864L159.4 866L160.5 868L161.6 870L162.7 872L164 874Z" fill="url(#fade)"/>
<path d="M161.5 872L161.9 870L162.3 868L162.8 866L163.3 864L163.9 862L164.6 860L166 858L168 860L169.3 862L170.4 864L171.5 866L172.6 868L173.7 870L175 872Z" fill="url(#g)"/>
<path d="M161.5 872L161.9 870L162.3 868L162.8 866L163.3 864L163.9 862L164.6 860L166 858L168 860L169.3 862L170.4 864L171.5 866L172.6 868L173.7 870L175 872Z" fill="url(#fade)"/>
<path d="M172 863L172.6 855.1L173.1 847L173.5 838.8L173.9 830.4L174.2 821.7L174.6 812.9L175 803.7L175.4 794.1L175.8 784.1L176.3 773.3L176.9 761.3L178.1 745.2L179.6 761.3L180.6 773.3L181.4 784.1L182.2 794.1L182.9 803.7L183.7 812.9L184.4 821.7L185.4 830.4L186.6 838.8L188.2 847L190.6 855.1L194.1 863Z" fill="url(#k)"/>
<path d="M191.5 851L192.3 832.1L192.8 812.9L193.1 793.3L193.4 773.3L193.7 752.7L194 731.6L194.4 709.7L194.7 686.9L195.1 663L195.7 637.3L196.4 608.8L198.3 570.4L200.1 608.8L201.2 637.3L202.2 663L203.1 686.9L203.9 709.7L204.7 731.6L205.5 752.7L206.3 773.3L207.4 793.3L209.1 812.9L212.4 832.1L218.8 851Z" fill="url(#k)"/>
<path d="M215.4 852L215.8 847.7L216.2 843.2L216.5 838.7L216.8 834.1L217.1 829.4L217.4 824.5L217.8 819.5L218.1 814.2L218.5 808.7L218.9 802.8L219.5 796.2L220.6 787.4L222.1 796.2L223 802.8L223.7 808.7L224.5 814.2L225.2 819.5L225.9 824.5L226.8 829.4L227.8 834.1L229 838.7L230.5 843.2L232.3 847.7L234.6 852Z" fill="url(#k)"/>
<path d="M192.9 863L193.5 857.3L194.1 851.6L194.8 845.9L195.6 840.3L196.4 834.6L197.5 828.9L199.6 823.2L202 828.9L203.6 834.6L205 840.3L206.5 845.9L208 851.6L209.8 857.3L211.9 863Z" fill="url(#m)"/>
<path d="M202.8 860L203.3 855.5L203.8 851.1L204.4 846.6L205 842.2L205.8 837.7L206.7 833.3L208.4 828.8L210.4 833.3L211.7 837.7L212.8 842.2L214 846.6L215.3 851.1L216.7 855.5L218.5 860Z" fill="url(#m)"/>
<path d="M202.8 860L203.3 855.5L203.8 851.1L204.4 846.6L205 842.2L205.8 837.7L206.7 833.3L208.4 828.8L210.4 833.3L211.7 837.7L212.8 842.2L214 846.6L215.3 851.1L216.7 855.5L218.5 860Z" fill="url(#fade)"/>
<path d="M174.4 869L174.9 866.9L175.4 864.8L176 862.7L176.6 860.7L177.4 858.6L178.3 856.5L180 854.4L181.8 856.5L182.9 858.6L184 860.7L185 862.7L186.1 864.8L187.4 866.9L189 869Z" fill="url(#g)"/>
<path d="M174.4 869L174.9 866.9L175.4 864.8L176 862.7L176.6 860.7L177.4 858.6L178.3 856.5L180 854.4L181.8 856.5L182.9 858.6L184 860.7L185 862.7L186.1 864.8L187.4 866.9L189 869Z" fill="url(#fade)"/>
<path d="M184 867L184.5 864.7L185 862.4L185.6 860.1L186.2 857.9L187 855.6L187.9 853.3L189.6 851L191.4 853.3L192.5 855.6L193.6 857.9L194.6 860.1L195.7 862.4L197 864.7L198.6 867Z" fill="url(#g)"/>
<path d="M184 867L184.5 864.7L185 862.4L185.6 860.1L186.2 857.9L187 855.6L187.9 853.3L189.6 851L191.4 853.3L192.5 855.6L193.6 857.9L194.6 860.1L195.7 862.4L197 864.7L198.6 867Z" fill="url(#fade)"/>
<path d="M219.5 859L219.9 857.4L220.3 855.9L220.8 854.3L221.3 852.7L221.9 851.1L222.6 849.6L224 848L225.5 849.6L226.6 851.1L227.5 852.7L228.4 854.3L229.3 855.9L230.5 857.4L231.8 859Z" fill="url(#g)"/>
<path d="M219.5 859L219.9 857.4L220.3 855.9L220.8 854.3L221.3 852.7L221.9 851.1L222.6 849.6L224 848L225.5 849.6L226.6 851.1L227.5 852.7L228.4 854.3L229.3 855.9L230.5 857.4L231.8 859Z" fill="url(#fade)"/>
<path d="M228.1 860L228.5 858.6L228.9 857.2L229.4 855.8L229.9 854.4L230.5 853L231.2 851.6L232.6 850.2L234.1 851.6L235.2 853L236.1 854.4L237 855.8L237.9 857.2L239.1 858.6L240.4 860Z" fill="url(#l)"/>
<path d="M228.1 860L228.5 858.6L228.9 857.2L229.4 855.8L229.9 854.4L230.5 853L231.2 851.6L232.6 850.2L234.1 851.6L235.2 853L236.1 854.4L237 855.8L237.9 857.2L239.1 858.6L240.4 860Z" fill="url(#fade)"/>
<path d="M73.6 916L73.9 913.5L74.3 911.1L74.7 908.6L75.2 906.2L75.7 903.7L76.3 901.3L77.6 898.8L79.3 901.3L80.3 903.7L81.3 906.2L82.3 908.6L83.3 911.1L84.5 913.5L86 916Z" fill="url(#g)"/>
<path d="M73.6 916L73.9 913.5L74.3 911.1L74.7 908.6L75.2 906.2L75.7 903.7L76.3 901.3L77.6 898.8L79.3 901.3L80.3 903.7L81.3 906.2L82.3 908.6L83.3 911.1L84.5 913.5L86 916Z" fill="url(#fade)"/>
<path d="M69.9 925L70.3 923.5L70.8 922L71.2 920.5L71.8 919.1L72.4 917.6L73.1 916.1L74.6 914.6L76.5 916.1L77.7 917.6L78.8 919.1L79.9 920.5L81.1 922L82.4 923.5L84.1 925Z" fill="url(#l)"/>
<path d="M69.9 925L70.3 923.5L70.8 922L71.2 920.5L71.8 919.1L72.4 917.6L73.1 916.1L74.6 914.6L76.5 916.1L77.7 917.6L78.8 919.1L79.9 920.5L81.1 922L82.4 923.5L84.1 925Z" fill="url(#fade)"/>
<path d="M192.7 922.5L193.1 921.5L193.5 920.5L194 919.5L194.5 918.4L195.1 917.4L195.8 916.4L197.2 915.4L198.7 916.4L199.8 917.4L200.7 918.4L201.6 919.5L202.5 920.5L203.7 921.5L205 922.5Z" fill="url(#g)"/>
<path d="M192.7 922.5L193.1 921.5L193.5 920.5L194 919.5L194.5 918.4L195.1 917.4L195.8 916.4L197.2 915.4L198.7 916.4L199.8 917.4L200.7 918.4L201.6 919.5L202.5 920.5L203.7 921.5L205 922.5Z" fill="url(#fade)"/>
<path d="M221 921.5L221.3 920.6L221.7 919.6L222.1 918.7L222.5 917.8L223.1 916.9L223.7 915.9L224.9 915L226.2 915.9L227.1 916.9L227.9 917.8L228.6 918.7L229.5 919.6L230.4 920.6L231.6 921.5Z" fill="url(#l)"/>
<path d="M221 921.5L221.3 920.6L221.7 919.6L222.1 918.7L222.5 917.8L223.1 916.9L223.7 915.9L224.9 915L226.2 915.9L227.1 916.9L227.9 917.8L228.6 918.7L229.5 919.6L230.4 920.6L231.6 921.5Z" fill="url(#fade)"/>
<path d="M208 922C210 922 210.6 918 212 918C213.8 918 214.5 922 217 922Z" fill="#c4c4c4" opacity="0.8"/>
<path d="M376.5 899L376.9 897.8L377.3 896.6L377.8 895.4L378.3 894.2L378.9 893L379.6 891.8L381 890.6L382.8 891.8L383.9 893L385 894.2L386 895.4L387.1 896.6L388.4 897.8L390 899Z" fill="url(#l)"/>
<path d="M376.5 899L376.9 897.8L377.3 896.6L377.8 895.4L378.3 894.2L378.9 893L379.6 891.8L381 890.6L382.8 891.8L383.9 893L385 894.2L386 895.4L387.1 896.6L388.4 897.8L390 899Z" fill="url(#fade)"/>
<path d="M391.9 897L392.3 895.7L392.7 894.5L393.2 893.2L393.7 892L394.3 890.7L395 889.5L396.4 888.2L398.2 889.5L399.3 890.7L400.4 892L401.4 893.2L402.5 894.5L403.8 895.7L405.4 897Z" fill="url(#v)"/>
<path d="M391.9 897L392.3 895.7L392.7 894.5L393.2 893.2L393.7 892L394.3 890.7L395 889.5L396.4 888.2L398.2 889.5L399.3 890.7L400.4 892L401.4 893.2L402.5 894.5L403.8 895.7L405.4 897Z" fill="url(#fade)"/>
<path d="M346 900L346.5 890.7L347 881.5L347.5 872.2L348.1 863L348.7 853.7L349.3 844.5L350.2 835.2L352.1 844.5L354 853.7L355.9 863L357.8 872.2L359.9 881.5L362.1 890.7L364.5 900Z" fill="url(#r)"/>
<path d="M331.2 908L331.7 892.5L332.2 877.1L332.8 861.6L333.4 846.2L334 830.7L334.7 815.3L335.6 799.8L338.5 815.3L341.4 830.7L344.4 846.2L347.4 861.6L350.6 877.1L354 892.5L357.7 908Z" fill="url(#r)"/>
<path d="M318.9 908L319.4 893.7L319.8 879.3L320.3 865L320.8 850.6L321.4 836.3L322 821.9L322.8 807.6L325 821.9L327.3 836.3L329.5 850.6L331.8 865L334.3 879.3L336.9 893.7L339.7 908Z" fill="url(#r)"/>
<path d="M316 914L316.5 898.4L317 882.9L317.5 867.3L318.1 851.7L318.7 836.1L319.3 820.6L320.2 805L322.8 820.6L325.3 836.1L327.9 851.7L330.6 867.3L333.4 882.9L336.4 898.4L339.7 914Z" fill="url(#r)"/>
<path d="M301.1 920L301.6 909.1L302.2 898.2L302.8 887.3L303.5 876.3L304.2 865.4L305 854.5L306 843.6L308.9 854.5L311.8 865.4L314.8 876.3L317.8 887.3L321 898.2L324.4 909.1L328.1 920Z" fill="url(#r)"/>
<path d="M298.7 920L299.2 909.4L299.8 898.8L300.4 888.2L301.1 877.6L301.8 867L302.6 856.4L303.6 845.8L305.7 856.4L307.7 867L309.8 877.6L311.9 888.2L314.2 898.8L316.6 909.4L319.2 920Z" fill="url(#r)"/>
<path d="M308.5 919L308.9 914L309.3 909L309.8 904L310.3 899L310.9 894L311.6 889L313 884L315.4 889L317 894L318.4 899L319.9 904L321.4 909L323.2 914L325.3 919Z" fill="url(#m)"/>
<path d="M308.5 919L308.9 914L309.3 909L309.8 904L310.3 899L310.9 894L311.6 889L313 884L315.4 889L317 894L318.4 899L319.9 904L321.4 909L323.2 914L325.3 919Z" fill="url(#fade)"/>
<path d="M325 915L325.4 909.4L325.9 903.9L326.4 898.3L327 892.7L327.6 887.1L328.4 881.6L330 876L332.6 881.6L334.4 887.1L335.9 892.7L337.5 898.3L339.1 903.9L341.1 909.4L343.4 915Z" fill="url(#m)"/>
<path d="M325 915L325.4 909.4L325.9 903.9L326.4 898.3L327 892.7L327.6 887.1L328.4 881.6L330 876L332.6 881.6L334.4 887.1L335.9 892.7L337.5 898.3L339.1 903.9L341.1 909.4L343.4 915Z" fill="url(#fade)"/>
<path d="M340.5 910L340.9 905.7L341.3 901.4L341.8 897.1L342.3 892.9L342.9 888.6L343.6 884.3L345 880L347.2 884.3L348.7 888.6L349.9 892.9L351.2 897.1L352.6 901.4L354.2 905.7L356.2 910Z" fill="url(#m)"/>
<path d="M340.5 910L340.9 905.7L341.3 901.4L341.8 897.1L342.3 892.9L342.9 888.6L343.6 884.3L345 880L347.2 884.3L348.7 888.6L349.9 892.9L351.2 897.1L352.6 901.4L354.2 905.7L356.2 910Z" fill="url(#fade)"/>
<path d="M353.6 904L353.9 901.4L354.3 898.9L354.7 896.3L355.1 893.7L355.7 891.1L356.3 888.6L357.5 886L359.3 888.6L360.4 891.1L361.5 893.7L362.5 896.3L363.6 898.9L364.9 901.4L366.5 904Z" fill="url(#g)"/>
<path d="M353.6 904L353.9 901.4L354.3 898.9L354.7 896.3L355.1 893.7L355.7 891.1L356.3 888.6L357.5 886L359.3 888.6L360.4 891.1L361.5 893.7L362.5 896.3L363.6 898.9L364.9 901.4L366.5 904Z" fill="url(#fade)"/>
<path d="M360.9 898L361.2 894.6L361.6 891.1L361.9 887.7L362.3 884.3L362.7 880.9L363.2 877.4L364 874L364.6 877.4L365.2 880.9L365.8 884.3L366.6 887.7L367.5 891.1L368.8 894.6L370.5 898Z" fill="url(#d)"/>
<path d="M363.5 898L363.8 894.5L364.2 890.9L364.5 887.4L364.9 883.8L365.3 880.3L365.8 876.7L366.6 873.2L367.3 876.7L368 880.3L368.8 883.8L369.7 887.4L370.8 890.9L372.3 894.5L374.4 898Z" fill="url(#d)"/>
<path d="M366.7 898L366.9 895.5L367.2 893L367.5 890.5L367.8 888L368.1 885.5L368.6 883L369.4 880.5L370.9 883L372 885.5L372.9 888L373.8 890.5L374.7 893L375.9 895.5L377.2 898Z" fill="url(#m)"/>
<path d="M242.2 926.5L242.8 921.9L243.4 917.4L244.1 912.8L244.9 908.3L245.7 903.7L246.8 899.2L248.9 894.6L250.9 899.2L252.2 903.7L253.3 908.3L254.5 912.8L255.8 917.4L257.2 921.9L259 926.5Z" fill="url(#m)"/>
<path d="M242.2 926.5L242.8 921.9L243.4 917.4L244.1 912.8L244.9 908.3L245.7 903.7L246.8 899.2L248.9 894.6L250.9 899.2L252.2 903.7L253.3 908.3L254.5 912.8L255.8 917.4L257.2 921.9L259 926.5Z" fill="url(#fade)"/>
<path d="M237.4 928L237.9 925.6L238.4 923.1L239 920.7L239.6 918.3L240.4 915.9L241.3 913.4L243 911L244.8 913.4L245.9 915.9L247 918.3L248 920.7L249.1 923.1L250.4 925.6L252 928Z" fill="url(#g)"/>
<path d="M237.4 928L237.9 925.6L238.4 923.1L239 920.7L239.6 918.3L240.4 915.9L241.3 913.4L243 911L244.8 913.4L245.9 915.9L247 918.3L248 920.7L249.1 923.1L250.4 925.6L252 928Z" fill="url(#fade)"/>
<path d="M256.3 925.5L256.8 921.8L257.3 918.1L257.8 914.4L258.4 910.7L259.1 907L259.9 903.3L261.5 899.6L263.3 903.3L264.4 907L265.5 910.7L266.5 914.4L267.6 918.1L268.9 921.8L270.5 925.5Z" fill="url(#m)"/>
<path d="M256.3 925.5L256.8 921.8L257.3 918.1L257.8 914.4L258.4 910.7L259.1 907L259.9 903.3L261.5 899.6L263.3 903.3L264.4 907L265.5 910.7L266.5 914.4L267.6 918.1L268.9 921.8L270.5 925.5Z" fill="url(#fade)"/>
<path d="M263.2 925L263.5 922.3L263.9 919.6L264.2 916.9L264.6 914.1L265 911.4L265.6 908.7L266.6 906L267.9 908.7L268.8 911.4L269.6 914.1L270.3 916.9L271.2 919.6L272.1 922.3L273.3 925Z" fill="url(#g)"/>
<path d="M263.2 925L263.5 922.3L263.9 919.6L264.2 916.9L264.6 914.1L265 911.4L265.6 908.7L266.6 906L267.9 908.7L268.8 911.4L269.6 914.1L270.3 916.9L271.2 919.6L272.1 922.3L273.3 925Z" fill="url(#fade)"/>
<path d="M270.5 924L271 919.3L271.5 914.5L272.1 909.8L272.7 905L273.5 900.3L274.4 895.5L276.1 890.8L278.1 895.5L279.4 900.3L280.5 905L281.7 909.8L283 914.5L284.4 919.3L286.2 924Z" fill="url(#m)"/>
<path d="M270.5 924L271 919.3L271.5 914.5L272.1 909.8L272.7 905L273.5 900.3L274.4 895.5L276.1 890.8L278.1 895.5L279.4 900.3L280.5 905L281.7 909.8L283 914.5L284.4 919.3L286.2 924Z" fill="url(#fade)"/>
<path d="M286.2 921L286.7 916.9L287.2 912.7L287.8 908.6L288.4 904.4L289.2 900.3L290.1 896.1L291.8 892L293.8 896.1L295.1 900.3L296.2 904.4L297.4 908.6L298.7 912.7L300.1 916.9L301.9 921Z" fill="url(#m)"/>
<path d="M286.2 921L286.7 916.9L287.2 912.7L287.8 908.6L288.4 904.4L289.2 900.3L290.1 896.1L291.8 892L293.8 896.1L295.1 900.3L296.2 904.4L297.4 908.6L298.7 912.7L300.1 916.9L301.9 921Z" fill="url(#fade)"/>
<path d="M281.5 922L281.9 919.6L282.3 917.1L282.8 914.7L283.3 912.3L283.9 909.9L284.6 907.4L286 905L287.5 907.4L288.6 909.9L289.5 912.3L290.4 914.7L291.3 917.1L292.5 919.6L293.8 922Z" fill="url(#g)"/>
<path d="M281.5 922L281.9 919.6L282.3 917.1L282.8 914.7L283.3 912.3L283.9 909.9L284.6 907.4L286 905L287.5 907.4L288.6 909.9L289.5 912.3L290.4 914.7L291.3 917.1L292.5 919.6L293.8 922Z" fill="url(#fade)"/>
<path d="M419 865C423.5 865 424.9 855.5 428 855.5C433.6 855.5 436 865 444 865Z" fill="#b4b4b4" opacity="0.9"/>
<path d="M442.2 862L442.9 855.4L443.5 848.6L444.1 841.7L444.6 834.6L445 827.4L445.5 819.9L446 812.2L446.5 804.2L447 795.8L447.6 786.8L448.4 776.7L449.7 763.2L451.2 776.7L452.2 786.8L453 795.8L453.8 804.2L454.6 812.2L455.4 819.9L456.4 827.4L457.5 834.6L458.9 841.7L460.8 848.6L463.4 855.4L466.7 862Z" fill="url(#k)"/>
<path d="M466.9 843L467.6 826.3L468.1 809.3L468.5 792L468.9 774.3L469.2 756.1L469.6 737.4L470 718.1L470.4 698L470.8 676.8L471.4 654.1L472.1 629L473.9 595L475.8 629L477.1 654.1L478.1 676.8L479.1 698L480.1 718.1L481.1 737.4L482.2 756.1L483.8 774.3L485.9 792L489.3 809.3L494.4 826.3L502.4 843Z" fill="url(#k)"/>
<path d="M492.7 839L493.1 833.6L493.5 828L493.9 822.3L494.2 816.6L494.5 810.6L494.8 804.5L495.1 798.2L495.5 791.6L495.8 784.7L496.3 777.3L496.8 769.1L497.8 758L499.2 769.1L500.1 777.3L500.9 784.7L501.7 791.6L502.5 798.2L503.3 804.5L504.2 810.6L505.4 816.6L506.8 822.3L508.7 828L511.1 833.6L514.3 839Z" fill="url(#k)"/>
<path d="M443 862.4L454.2 857.4L458.5 843.5L463 846L467.6 841L474.4 824.6L479.4 838.5L485.7 831L492 841L500.8 833.4L508.4 843.5L516 846L531 853.6L551.3 857.4L576.5 856L576.5 861L531 865L500.8 866.2L475.6 867.5L454.2 866.2Z" fill="url(#w)"/>
<path d="M463.8 865L464.1 861.6L464.5 858.1L464.9 854.7L465.3 851.3L465.8 847.9L466.4 844.4L467.6 841L469 844.4L470 847.9L470.8 851.3L471.6 854.7L472.5 858.1L473.6 861.6L474.9 865Z" fill="url(#m)"/>
<path d="M469.7 865L470.1 859.2L470.6 853.5L471 847.7L471.6 841.9L472.2 836.1L472.9 830.4L474.4 824.6L476.2 830.4L477.3 836.1L478.4 841.9L479.4 847.7L480.5 853.5L481.8 859.2L483.4 865Z" fill="url(#m)"/>
<path d="M481 865L481.4 860.1L481.9 855.3L482.3 850.4L482.9 845.6L483.5 840.7L484.2 835.9L485.7 831L487.5 835.9L488.6 840.7L489.7 845.6L490.7 850.4L491.8 855.3L493.1 860.1L494.7 865Z" fill="url(#m)"/>
<path d="M496.1 863L496.5 858.8L497 854.5L497.4 850.3L498 846.1L498.6 841.9L499.3 837.6L500.8 833.4L502.8 837.6L504.1 841.9L505.2 846.1L506.4 850.3L507.7 854.5L509.1 858.8L510.9 863Z" fill="url(#m)"/>
<path d="M496.1 863L496.5 858.8L497 854.5L497.4 850.3L498 846.1L498.6 841.9L499.3 837.6L500.8 833.4L502.8 837.6L504.1 841.9L505.2 846.1L506.4 850.3L507.7 854.5L509.1 858.8L510.9 863Z" fill="url(#fade)"/>
<path d="M454.2 866L454.6 862.8L455 859.6L455.5 856.4L455.9 853.1L456.5 849.9L457.2 846.7L458.5 843.5L460.2 846.7L461.2 849.9L462.2 853.1L463.2 856.4L464.2 859.6L465.4 862.8L466.9 866Z" fill="url(#m)"/>
<path d="M506.5 862L506.9 859.6L507.3 857.1L507.8 854.7L508.3 852.3L508.9 849.9L509.6 847.4L511 845L513 847.4L514.3 849.9L515.4 852.3L516.6 854.7L517.9 857.1L519.3 859.6L521.1 862Z" fill="url(#g)"/>
<path d="M506.5 862L506.9 859.6L507.3 857.1L507.8 854.7L508.3 852.3L508.9 849.9L509.6 847.4L511 845L513 847.4L514.3 849.9L515.4 852.3L516.6 854.7L517.9 857.1L519.3 859.6L521.1 862Z" fill="url(#fade)"/>
<path d="M443 862.4L454.2 857.4L458.5 843.5L463 846L467.6 841L474.4 824.6L479.4 838.5L485.7 831L492 841L500.8 833.4L508.4 843.5L516 846L531 853.6L551.3 857.4L576.5 856L576.5 861L531 865L500.8 866.2L475.6 867.5L454.2 866.2Z" fill="url(#fade)" opacity="0.6"/>
<path d="M442.5 866L442.9 864.9L443.3 863.7L443.8 862.6L444.3 861.4L444.9 860.3L445.6 859.1L447 858L448.5 859.1L449.6 860.3L450.5 861.4L451.4 862.6L452.3 863.7L453.5 864.9L454.8 866Z" fill="url(#l)"/>
<path d="M442.5 866L442.9 864.9L443.3 863.7L443.8 862.6L444.3 861.4L444.9 860.3L445.6 859.1L447 858L448.5 859.1L449.6 860.3L450.5 861.4L451.4 862.6L452.3 863.7L453.5 864.9L454.8 866Z" fill="url(#fade)"/>
<line x1="60.1" y1="641" x2="60.1" y2="932.9" stroke="#c2c2c2" stroke-width="1"/>
<line x1="52.5" y1="932.4" x2="60.1" y2="932.4" stroke="#b8b8b8" stroke-width="1"/>
<text x="51.4" y="937.1" font-size="12.7" text-anchor="end" fill="#2a2a2a">0</text>
<line x1="54.6" y1="926.6" x2="60.1" y2="926.6" stroke="#cdcdcd" stroke-width="0.9"/>
<line x1="54.6" y1="920.8" x2="60.1" y2="920.8" stroke="#cdcdcd" stroke-width="0.9"/>
<line x1="54.6" y1="914.9" x2="60.1" y2="914.9" stroke="#cdcdcd" stroke-width="0.9"/>
<line x1="54.6" y1="909.1" x2="60.1" y2="909.1" stroke="#cdcdcd" stroke-width="0.9"/>
<line x1="52.5" y1="903.3" x2="60.1" y2="903.3" stroke="#b8b8b8" stroke-width="1"/>
<text x="51.4" y="908" font-size="12.7" text-anchor="end" fill="#2a2a2a">10</text>
<line x1="54.6" y1="897.5" x2="60.1" y2="897.5" stroke="#cdcdcd" stroke-width="0.9"/>
<line x1="54.6" y1="891.7" x2="60.1" y2="891.7" stroke="#cdcdcd" stroke-width="0.9"/>
<line x1="54.6" y1="885.9" x2="60.1" y2="885.9" stroke="#cdcdcd" stroke-width="0.9"/>
<line x1="54.6" y1="880" x2="60.1" y2="880" stroke="#cdcdcd" stroke-width="0.9"/>
<line x1="52.5" y1="874.2" x2="60.1" y2="874.2" stroke="#b8b8b8" stroke-width="1"/>
<text x="51.4" y="878.9" font-size="12.7" text-anchor="end" fill="#2a2a2a">20</text>
<line x1="54.6" y1="868.4" x2="60.1" y2="868.4" stroke="#cdcdcd" stroke-width="0.9"/>
<line x1="54.6" y1="862.6" x2="60.1" y2="862.6" stroke="#cdcdcd" stroke-width="0.9"/>
<line x1="54.6" y1="856.8" x2="60.1" y2="856.8" stroke="#cdcdcd" stroke-width="0.9"/>
<line x1="54.6" y1="850.9" x2="60.1" y2="850.9" stroke="#cdcdcd" stroke-width="0.9"/>
<line x1="52.5" y1="845.1" x2="60.1" y2="845.1" stroke="#b8b8b8" stroke-width="1"/>
<text x="51.4" y="849.8" font-size="12.7" text-anchor="end" fill="#2a2a2a">30</text>
<line x1="54.6" y1="839.3" x2="60.1" y2="839.3" stroke="#cdcdcd" stroke-width="0.9"/>
<line x1="54.6" y1="833.5" x2="60.1" y2="833.5" stroke="#cdcdcd" stroke-width="0.9"/>
<line x1="54.6" y1="827.7" x2="60.1" y2="827.7" stroke="#cdcdcd" stroke-width="0.9"/>
<line x1="54.6" y1="821.9" x2="60.1" y2="821.9" stroke="#cdcdcd" stroke-width="0.9"/>
<line x1="52.5" y1="816" x2="60.1" y2="816" stroke="#b8b8b8" stroke-width="1"/>
<text x="51.4" y="820.7" font-size="12.7" text-anchor="end" fill="#2a2a2a">40</text>
<line x1="54.6" y1="810.2" x2="60.1" y2="810.2" stroke="#cdcdcd" stroke-width="0.9"/>
<line x1="54.6" y1="804.4" x2="60.1" y2="804.4" stroke="#cdcdcd" stroke-width="0.9"/>
<line x1="54.6" y1="798.6" x2="60.1" y2="798.6" stroke="#cdcdcd" stroke-width="0.9"/>
<line x1="54.6" y1="792.8" x2="60.1" y2="792.8" stroke="#cdcdcd" stroke-width="0.9"/>
<line x1="52.5" y1="787" x2="60.1" y2="787" stroke="#b8b8b8" stroke-width="1"/>
<text x="51.4" y="791.7" font-size="12.7" text-anchor="end" fill="#2a2a2a">50</text>
<line x1="54.6" y1="781.1" x2="60.1" y2="781.1" stroke="#cdcdcd" stroke-width="0.9"/>
<line x1="54.6" y1="775.3" x2="60.1" y2="775.3" stroke="#cdcdcd" stroke-width="0.9"/>
<line x1="54.6" y1="769.5" x2="60.1" y2="769.5" stroke="#cdcdcd" stroke-width="0.9"/>
<line x1="54.6" y1="763.7" x2="60.1" y2="763.7" stroke="#cdcdcd" stroke-width="0.9"/>
<line x1="52.5" y1="757.9" x2="60.1" y2="757.9" stroke="#b8b8b8" stroke-width="1"/>
<text x="51.4" y="762.6" font-size="12.7" text-anchor="end" fill="#2a2a2a">60</text>
<line x1="54.6" y1="752" x2="60.1" y2="752" stroke="#cdcdcd" stroke-width="0.9"/>
<line x1="54.6" y1="746.2" x2="60.1" y2="746.2" stroke="#cdcdcd" stroke-width="0.9"/>
<line x1="54.6" y1="740.4" x2="60.1" y2="740.4" stroke="#cdcdcd" stroke-width="0.9"/>
<line x1="54.6" y1="734.6" x2="60.1" y2="734.6" stroke="#cdcdcd" stroke-width="0.9"/>
<line x1="52.5" y1="728.8" x2="60.1" y2="728.8" stroke="#b8b8b8" stroke-width="1"/>
<text x="51.4" y="733.5" font-size="12.7" text-anchor="end" fill="#2a2a2a">70</text>
<line x1="54.6" y1="723" x2="60.1" y2="723" stroke="#cdcdcd" stroke-width="0.9"/>
<line x1="54.6" y1="717.1" x2="60.1" y2="717.1" stroke="#cdcdcd" stroke-width="0.9"/>
<line x1="54.6" y1="711.3" x2="60.1" y2="711.3" stroke="#cdcdcd" stroke-width="0.9"/>
<line x1="54.6" y1="705.5" x2="60.1" y2="705.5" stroke="#cdcdcd" stroke-width="0.9"/>
<line x1="52.5" y1="699.7" x2="60.1" y2="699.7" stroke="#b8b8b8" stroke-width="1"/>
<text x="51.4" y="704.4" font-size="12.7" text-anchor="end" fill="#2a2a2a">80</text>
<line x1="54.6" y1="693.9" x2="60.1" y2="693.9" stroke="#cdcdcd" stroke-width="0.9"/>
<line x1="54.6" y1="688" x2="60.1" y2="688" stroke="#cdcdcd" stroke-width="0.9"/>
<line x1="54.6" y1="682.2" x2="60.1" y2="682.2" stroke="#cdcdcd" stroke-width="0.9"/>
<line x1="54.6" y1="676.4" x2="60.1" y2="676.4" stroke="#cdcdcd" stroke-width="0.9"/>
<line x1="52.5" y1="670.6" x2="60.1" y2="670.6" stroke="#b8b8b8" stroke-width="1"/>
<text x="51.4" y="675.3" font-size="12.7" text-anchor="end" fill="#2a2a2a">90</text>
<line x1="54.6" y1="664.8" x2="60.1" y2="664.8" stroke="#cdcdcd" stroke-width="0.9"/>
<line x1="54.6" y1="659" x2="60.1" y2="659" stroke="#cdcdcd" stroke-width="0.9"/>
<line x1="54.6" y1="653.1" x2="60.1" y2="653.1" stroke="#cdcdcd" stroke-width="0.9"/>
<line x1="54.6" y1="647.3" x2="60.1" y2="647.3" stroke="#cdcdcd" stroke-width="0.9"/>
<line x1="52.5" y1="641.5" x2="60.1" y2="641.5" stroke="#b8b8b8" stroke-width="1"/>
<text x="51.4" y="646.2" font-size="12.7" text-anchor="end" fill="#2a2a2a">100</text>
<text x="24.8" y="786.6" font-size="13.5" text-anchor="middle" transform="rotate(-90 24.8 786.6)" fill="#2a2a2a">Relative Abundance</text>
<line x1="59.9" y1="932" x2="624.2" y2="932" stroke="#b4b4b4" stroke-width="1"/>
<line x1="59.9" y1="932" x2="59.9" y2="938" stroke="#c8c8c8" stroke-width="0.9"/>
<line x1="74.6" y1="932" x2="74.6" y2="938" stroke="#c8c8c8" stroke-width="0.9"/>
<line x1="89.3" y1="932" x2="89.3" y2="938" stroke="#c8c8c8" stroke-width="0.9"/>
<line x1="104" y1="932" x2="104" y2="939.4" stroke="#b4b4b4" stroke-width="1"/>
<text x="104" y="953.6" font-size="13" text-anchor="middle" fill="#2a2a2a">5</text>
<line x1="118.7" y1="932" x2="118.7" y2="938" stroke="#c8c8c8" stroke-width="0.9"/>
<line x1="133.4" y1="932" x2="133.4" y2="938" stroke="#c8c8c8" stroke-width="0.9"/>
<line x1="148.1" y1="932" x2="148.1" y2="938" stroke="#c8c8c8" stroke-width="0.9"/>
<line x1="162.8" y1="932" x2="162.8" y2="938" stroke="#c8c8c8" stroke-width="0.9"/>
<line x1="177.5" y1="932" x2="177.5" y2="939.4" stroke="#b4b4b4" stroke-width="1"/>
<text x="177.5" y="953.6" font-size="13" text-anchor="middle" fill="#2a2a2a">10</text>
<line x1="192.2" y1="932" x2="192.2" y2="938" stroke="#c8c8c8" stroke-width="0.9"/>
<line x1="206.9" y1="932" x2="206.9" y2="938" stroke="#c8c8c8" stroke-width="0.9"/>
<line x1="221.6" y1="932" x2="221.6" y2="938" stroke="#c8c8c8" stroke-width="0.9"/>
<line x1="236.3" y1="932" x2="236.3" y2="938" stroke="#c8c8c8" stroke-width="0.9"/>
<line x1="251" y1="932" x2="251" y2="939.4" stroke="#b4b4b4" stroke-width="1"/>
<text x="251" y="953.6" font-size="13" text-anchor="middle" fill="#2a2a2a">15</text>
<line x1="265.7" y1="932" x2="265.7" y2="938" stroke="#c8c8c8" stroke-width="0.9"/>
<line x1="280.4" y1="932" x2="280.4" y2="938" stroke="#c8c8c8" stroke-width="0.9"/>
<line x1="295.1" y1="932" x2="295.1" y2="938" stroke="#c8c8c8" stroke-width="0.9"/>
<line x1="309.8" y1="932" x2="309.8" y2="938" stroke="#c8c8c8" stroke-width="0.9"/>
<line x1="324.5" y1="932" x2="324.5" y2="939.4" stroke="#b4b4b4" stroke-width="1"/>
<text x="324.5" y="953.6" font-size="13" text-anchor="middle" fill="#2a2a2a">20</text>
<line x1="339.2" y1="932" x2="339.2" y2="938" stroke="#c8c8c8" stroke-width="0.9"/>
<line x1="353.9" y1="932" x2="353.9" y2="938" stroke="#c8c8c8" stroke-width="0.9"/>
<line x1="368.6" y1="932" x2="368.6" y2="938" stroke="#c8c8c8" stroke-width="0.9"/>
<line x1="383.3" y1="932" x2="383.3" y2="938" stroke="#c8c8c8" stroke-width="0.9"/>
<line x1="398" y1="932" x2="398" y2="939.4" stroke="#b4b4b4" stroke-width="1"/>
<text x="398" y="953.6" font-size="13" text-anchor="middle" fill="#2a2a2a">25</text>
<line x1="412.7" y1="932" x2="412.7" y2="938" stroke="#c8c8c8" stroke-width="0.9"/>
<line x1="427.4" y1="932" x2="427.4" y2="938" stroke="#c8c8c8" stroke-width="0.9"/>
<line x1="442.1" y1="932" x2="442.1" y2="938" stroke="#c8c8c8" stroke-width="0.9"/>
<line x1="456.8" y1="932" x2="456.8" y2="938" stroke="#c8c8c8" stroke-width="0.9"/>
<line x1="471.5" y1="932" x2="471.5" y2="939.4" stroke="#b4b4b4" stroke-width="1"/>
<text x="471.5" y="953.6" font-size="13" text-anchor="middle" fill="#2a2a2a">30</text>
<line x1="486.2" y1="932" x2="486.2" y2="938" stroke="#c8c8c8" stroke-width="0.9"/>
<line x1="500.9" y1="932" x2="500.9" y2="938" stroke="#c8c8c8" stroke-width="0.9"/>
<line x1="515.6" y1="932" x2="515.6" y2="938" stroke="#c8c8c8" stroke-width="0.9"/>
<line x1="530.3" y1="932" x2="530.3" y2="938" stroke="#c8c8c8" stroke-width="0.9"/>
<line x1="545" y1="932" x2="545" y2="939.4" stroke="#b4b4b4" stroke-width="1"/>
<text x="545" y="953.6" font-size="13" text-anchor="middle" fill="#2a2a2a">35</text>
<line x1="559.7" y1="932" x2="559.7" y2="938" stroke="#c8c8c8" stroke-width="0.9"/>
<line x1="574.4" y1="932" x2="574.4" y2="938" stroke="#c8c8c8" stroke-width="0.9"/>
<line x1="589.1" y1="932" x2="589.1" y2="938" stroke="#c8c8c8" stroke-width="0.9"/>
<line x1="603.8" y1="932" x2="603.8" y2="938" stroke="#c8c8c8" stroke-width="0.9"/>
<line x1="618.5" y1="932" x2="618.5" y2="939.4" stroke="#b4b4b4" stroke-width="1"/>
<text x="618.5" y="953.6" font-size="13" text-anchor="middle" fill="#2a2a2a">40</text>
<text x="339.5" y="970.8" font-size="13.4" text-anchor="middle" fill="#2a2a2a">Time (min)</text>
<line x1="617.8" y1="931.5" x2="673.2" y2="780.5" stroke="#7a7a7a" stroke-width="1"/>
<line x1="617.8" y1="931.5" x2="622.2" y2="931.5" stroke="#b4b4b4" stroke-width="0.9"/>
<line x1="620.6" y1="924" x2="627.1" y2="924" stroke="#9a9a9a" stroke-width="1"/>
<line x1="623.3" y1="916.4" x2="627.7" y2="916.4" stroke="#b4b4b4" stroke-width="0.9"/>
<line x1="626.1" y1="908.9" x2="630.5" y2="908.9" stroke="#b4b4b4" stroke-width="0.9"/>
<line x1="628.9" y1="901.3" x2="633.3" y2="901.3" stroke="#b4b4b4" stroke-width="0.9"/>
<line x1="631.6" y1="893.8" x2="638.1" y2="893.8" stroke="#9a9a9a" stroke-width="1"/>
<line x1="634.4" y1="886.2" x2="638.8" y2="886.2" stroke="#b4b4b4" stroke-width="0.9"/>
<line x1="637.2" y1="878.6" x2="641.6" y2="878.6" stroke="#b4b4b4" stroke-width="0.9"/>
<line x1="640" y1="871.1" x2="644.4" y2="871.1" stroke="#b4b4b4" stroke-width="0.9"/>
<line x1="642.7" y1="863.5" x2="649.2" y2="863.5" stroke="#9a9a9a" stroke-width="1"/>
<line x1="645.5" y1="856" x2="649.9" y2="856" stroke="#b4b4b4" stroke-width="0.9"/>
<line x1="648.3" y1="848.5" x2="652.7" y2="848.5" stroke="#b4b4b4" stroke-width="0.9"/>
<line x1="651" y1="840.9" x2="655.4" y2="840.9" stroke="#b4b4b4" stroke-width="0.9"/>
<line x1="653.8" y1="833.4" x2="660.3" y2="833.4" stroke="#9a9a9a" stroke-width="1"/>
<line x1="656.6" y1="825.8" x2="661" y2="825.8" stroke="#b4b4b4" stroke-width="0.9"/>
<line x1="659.4" y1="818.2" x2="663.8" y2="818.2" stroke="#b4b4b4" stroke-width="0.9"/>
<line x1="662.1" y1="810.7" x2="666.5" y2="810.7" stroke="#b4b4b4" stroke-width="0.9"/>
<line x1="664.9" y1="803.1" x2="671.4" y2="803.1" stroke="#9a9a9a" stroke-width="1"/>
<line x1="667.7" y1="795.6" x2="672.1" y2="795.6" stroke="#b4b4b4" stroke-width="0.9"/>
<line x1="670.4" y1="788" x2="674.8" y2="788" stroke="#b4b4b4" stroke-width="0.9"/>
<line x1="673.2" y1="780.5" x2="677.6" y2="780.5" stroke="#b4b4b4" stroke-width="0.9"/>
<text x="632.7" y="929.1" font-size="13" fill="#2a2a2a">400</text>
<text x="643.7" y="898.9" font-size="13" fill="#2a2a2a">600</text>
<text x="654.9" y="868.7" font-size="13" fill="#2a2a2a">800</text>
<text x="667" y="838" font-size="13" fill="#2a2a2a">1000</text>
<text x="677.6" y="807.8" font-size="13" fill="#2a2a2a">1200</text>
<text x="695.2" y="880.4" font-size="13" text-anchor="middle" transform="rotate(-62 695.2 880.4)" fill="#2a2a2a" dy="4.5">m/z</text>
<g class="lb">
<text x="179.4" y="560.6" font-size="12.0" textLength="39.4" lengthAdjust="spacingAndGlyphs"><tspan font-style="italic">m/z<tspan font-size="6"> </tspan>757</tspan></text>
<text x="139.8" y="738.4" font-size="12.0" textLength="40.4" lengthAdjust="spacingAndGlyphs"><tspan font-style="italic">m/z<tspan font-size="6"> </tspan>729</tspan></text>
<text x="219" y="776.1" font-size="12.0" textLength="40.3" lengthAdjust="spacingAndGlyphs"><tspan font-style="italic">m/z<tspan font-size="6"> </tspan>785</tspan></text>
<text x="455" y="583.7" font-size="12.0" textLength="38.8" lengthAdjust="spacingAndGlyphs"><tspan font-style="italic">m/z<tspan font-size="6"> </tspan>757</tspan></text>
<text x="413.9" y="752.8" font-size="12.0" textLength="39.5" lengthAdjust="spacingAndGlyphs"><tspan font-style="italic">m/z<tspan font-size="6"> </tspan>729</tspan></text>
<text x="495" y="748.2" font-size="12.0" textLength="39.9" lengthAdjust="spacingAndGlyphs"><tspan font-style="italic">m/z<tspan font-size="6"> </tspan>785</tspan></text>
<text x="578.8" y="618" font-size="27.4" textLength="14.8" lengthAdjust="spacingAndGlyphs" style="stroke-width:.6px">B</text>
<text x="73.3" y="894.4" font-size="12.0" textLength="53.9" lengthAdjust="spacingAndGlyphs">unsat FFA</text>
<text x="87.8" y="922.8" font-size="12.0" textLength="39.4" lengthAdjust="spacingAndGlyphs">sat FFA</text>
<text x="142.2" y="896.5" font-size="12.0" textLength="106.2" lengthAdjust="spacingAndGlyphs" transform="rotate(-13.6 142.2 896.5)">Free OAHFA, (M-H)<tspan font-size="7.5" dy="-4.2">-</tspan></text>
<text x="274" y="938.4" font-size="12.0" textLength="141.6" lengthAdjust="spacingAndGlyphs" transform="rotate(-8.8 274 938.4)">Anions of non-polar lipids</text>
<text x="454.7" y="887.4" font-size="12.0" textLength="122" lengthAdjust="spacingAndGlyphs" transform="rotate(-7 454.7 887.4)">Chl-OAHFA, (M-Chl-H)<tspan font-size="7.5" dy="-4.2">-</tspan></text>
</g>
</svg></body></html>
